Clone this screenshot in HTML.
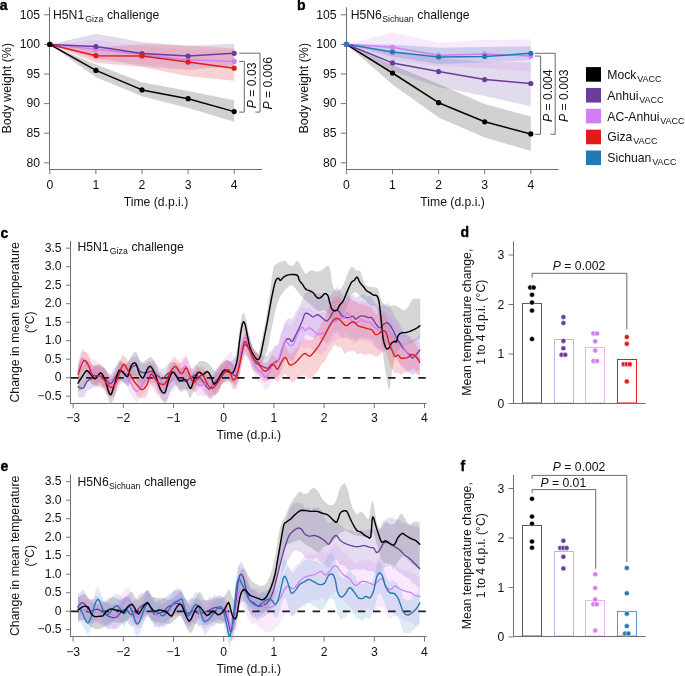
<!DOCTYPE html>
<html><head><meta charset="utf-8"><title>Figure</title>
<style>html,body{margin:0;padding:0;background:#fff;width:685px;height:676px;overflow:hidden;}
svg text{font-family:"Liberation Sans", sans-serif;}</style></head>
<body>
<svg width="685" height="676" viewBox="0 0 685 676" style="position:absolute;left:0;top:0;filter:blur(0.3px)">
<rect width="685" height="676" fill="#fff"/>
<text x="-0.3" y="10.3" font-size="14" fill="#000" font-weight="bold" stroke="#000" stroke-width="0.35">a</text>
<path d="M49.8 44.4 L95.9 64.4 L142 82.3 L188.1 91 L234.2 100.3 L234.2 121.8 L188.1 108 L142 96.3 L95.9 77.2 L49.8 44.4Z" fill="#9a9a9a" fill-opacity="0.45" stroke="none"/>
<path d="M49.8 44.4 L95.9 33.8 L142 42 L188.1 46 L234.2 43.8 L234.2 66 L188.1 70 L142 66 L95.9 58 L49.8 44.4Z" fill="#8a6ab8" fill-opacity="0.25" stroke="none"/>
<path d="M49.8 44.4 L95.9 40 L142 46 L188.1 50 L234.2 50 L234.2 68 L188.1 66 L142 64 L95.9 60 L49.8 44.4Z" fill="#d47ef6" fill-opacity="0.12" stroke="none"/>
<path d="M49.8 44.4 L95.9 47.4 L142 44.3 L188.1 45.5 L234.2 48.5 L234.2 80.7 L188.1 76.2 L142 67 L95.9 62.7 L49.8 44.4Z" fill="#e8707a" fill-opacity="0.32" stroke="none"/>
<line x1="49.5" y1="7.2" x2="49.5" y2="170" stroke="#6e6e6e" stroke-width="1"/>
<line x1="49" y1="169.5" x2="262" y2="169.5" stroke="#6e6e6e" stroke-width="1"/>
<line x1="44.2" y1="14.8" x2="49.5" y2="14.8" stroke="#777777" stroke-width="1"/>
<text x="40" y="18.5" font-size="12.2" fill="#111111" text-anchor="end">105</text>
<line x1="44.2" y1="44.4" x2="49.5" y2="44.4" stroke="#777777" stroke-width="1"/>
<text x="40" y="48.1" font-size="12.2" fill="#111111" text-anchor="end">100</text>
<line x1="44.2" y1="74" x2="49.5" y2="74" stroke="#777777" stroke-width="1"/>
<text x="40" y="77.7" font-size="12.2" fill="#111111" text-anchor="end">95</text>
<line x1="44.2" y1="103.6" x2="49.5" y2="103.6" stroke="#777777" stroke-width="1"/>
<text x="40" y="107.3" font-size="12.2" fill="#111111" text-anchor="end">90</text>
<line x1="44.2" y1="133.2" x2="49.5" y2="133.2" stroke="#777777" stroke-width="1"/>
<text x="40" y="136.9" font-size="12.2" fill="#111111" text-anchor="end">85</text>
<line x1="44.2" y1="162.8" x2="49.5" y2="162.8" stroke="#777777" stroke-width="1"/>
<text x="40" y="166.5" font-size="12.2" fill="#111111" text-anchor="end">80</text>
<line x1="49.8" y1="170" x2="49.8" y2="174.3" stroke="#777777" stroke-width="1"/>
<text x="49.8" y="188.9" font-size="12.2" fill="#111111" text-anchor="middle">0</text>
<line x1="95.9" y1="170" x2="95.9" y2="174.3" stroke="#777777" stroke-width="1"/>
<text x="95.9" y="188.9" font-size="12.2" fill="#111111" text-anchor="middle">1</text>
<line x1="142" y1="170" x2="142" y2="174.3" stroke="#777777" stroke-width="1"/>
<text x="142" y="188.9" font-size="12.2" fill="#111111" text-anchor="middle">2</text>
<line x1="188.1" y1="170" x2="188.1" y2="174.3" stroke="#777777" stroke-width="1"/>
<text x="188.1" y="188.9" font-size="12.2" fill="#111111" text-anchor="middle">3</text>
<line x1="234.2" y1="170" x2="234.2" y2="174.3" stroke="#777777" stroke-width="1"/>
<text x="234.2" y="188.9" font-size="12.2" fill="#111111" text-anchor="middle">4</text>
<text x="156" y="206" font-size="12.2" fill="#111111" text-anchor="middle" textLength="64.5" lengthAdjust="spacingAndGlyphs">Time (d.p.i.)</text>
<text x="11.2" y="88.2" font-size="12.2" fill="#111111" text-anchor="middle" transform="rotate(-90 11.2 88.2)" textLength="90.5" lengthAdjust="spacingAndGlyphs">Body weight (%)</text>
<text x="53" y="18.7" font-size="12.2" fill="#111111">H5N1<tspan font-size="8.7" dy="2.9" dx="1.2">Giza</tspan><tspan dy="-2.9" dx="0.4"> challenge</tspan></text>
<path d="M49.8 44.4 L95.9 49.3 L142 54.6 L188.1 59.8 L234.2 61.4" fill="none" stroke="#d47ef6" stroke-width="1.5" stroke-linejoin="round" stroke-linecap="round"/>
<circle cx="49.8" cy="44.4" r="2.6" fill="#d47ef6"/>
<circle cx="95.9" cy="49.3" r="2.6" fill="#d47ef6"/>
<circle cx="142" cy="54.6" r="2.6" fill="#d47ef6"/>
<circle cx="188.1" cy="59.8" r="2.6" fill="#d47ef6"/>
<circle cx="234.2" cy="61.4" r="2.6" fill="#d47ef6"/>
<path d="M49.8 44.4 L95.9 46.5 L142 53.6 L188.1 56 L234.2 53.3" fill="none" stroke="#6a3d9a" stroke-width="1.5" stroke-linejoin="round" stroke-linecap="round"/>
<circle cx="49.8" cy="44.4" r="2.6" fill="#6a3d9a"/>
<circle cx="95.9" cy="46.5" r="2.6" fill="#6a3d9a"/>
<circle cx="142" cy="53.6" r="2.6" fill="#6a3d9a"/>
<circle cx="188.1" cy="56" r="2.6" fill="#6a3d9a"/>
<circle cx="234.2" cy="53.3" r="2.6" fill="#6a3d9a"/>
<path d="M49.8 44.4 L95.9 55.7 L142 55.9 L188.1 62.1 L234.2 68.2" fill="none" stroke="#e31a1c" stroke-width="1.5" stroke-linejoin="round" stroke-linecap="round"/>
<circle cx="49.8" cy="44.4" r="2.6" fill="#e31a1c"/>
<circle cx="95.9" cy="55.7" r="2.6" fill="#e31a1c"/>
<circle cx="142" cy="55.9" r="2.6" fill="#e31a1c"/>
<circle cx="188.1" cy="62.1" r="2.6" fill="#e31a1c"/>
<circle cx="234.2" cy="68.2" r="2.6" fill="#e31a1c"/>
<path d="M49.8 44.4 L95.9 70.4 L142 89.9 L188.1 98.7 L234.2 111.6" fill="none" stroke="#000000" stroke-width="1.5" stroke-linejoin="round" stroke-linecap="round"/>
<circle cx="49.8" cy="44.4" r="2.6" fill="#000000"/>
<circle cx="95.9" cy="70.4" r="2.6" fill="#000000"/>
<circle cx="142" cy="89.9" r="2.6" fill="#000000"/>
<circle cx="188.1" cy="98.7" r="2.6" fill="#000000"/>
<circle cx="234.2" cy="111.6" r="2.6" fill="#000000"/>
<path d="M239.2 61.4 H244.3 V112.1 H239.2" fill="none" stroke="#6a6a6a" stroke-width="1"/>
<path d="M239.2 53.2 H260 V112.1 H255.4" fill="none" stroke="#6a6a6a" stroke-width="1"/>
<text x="255.6" y="108.2" font-size="12.2" fill="#111111" transform="rotate(-90 255.6 108.2)"><tspan font-style="italic">P</tspan> = 0.03</text>
<text x="272.2" y="109.6" font-size="12.2" fill="#111111" transform="rotate(-90 272.2 109.6)"><tspan font-style="italic">P</tspan> = 0.006</text>
<text x="296.9" y="10.3" font-size="14" fill="#000" font-weight="bold" stroke="#000" stroke-width="0.35">b</text>
<path d="M346.4 44.3 L392.5 65 L438.6 84 L484.7 104 L530.8 116.5 L530.8 151 L484.7 137.5 L438.6 117.5 L392.5 84.5 L346.4 44.3Z" fill="#9a9a9a" fill-opacity="0.45" stroke="none"/>
<path d="M346.4 44.3 L392.5 52 L438.6 58 L484.7 62 L530.8 62 L530.8 106.5 L484.7 96 L438.6 87 L392.5 71 L346.4 44.3Z" fill="#8a6ab8" fill-opacity="0.25" stroke="none"/>
<path d="M346.4 44.3 L392.5 32.5 L438.6 42.8 L484.7 40 L530.8 39.3 L530.8 71.5 L484.7 68 L438.6 66 L392.5 60 L346.4 44.3Z" fill="#d47ef6" fill-opacity="0.17" stroke="none"/>
<path d="M346.4 44.3 L392.5 44.5 L438.6 47.7 L484.7 47 L530.8 46.3 L530.8 60.5 L484.7 62.5 L438.6 64 L392.5 56.5 L346.4 44.3Z" fill="#6a8fce" fill-opacity="0.3" stroke="none"/>
<line x1="346.5" y1="7.2" x2="346.5" y2="170" stroke="#6e6e6e" stroke-width="1"/>
<line x1="346" y1="169.5" x2="558.6" y2="169.5" stroke="#6e6e6e" stroke-width="1"/>
<line x1="340.8" y1="14.8" x2="346.5" y2="14.8" stroke="#777777" stroke-width="1"/>
<text x="336.6" y="18.5" font-size="12.2" fill="#111111" text-anchor="end">105</text>
<line x1="340.8" y1="44.4" x2="346.5" y2="44.4" stroke="#777777" stroke-width="1"/>
<text x="336.6" y="48.1" font-size="12.2" fill="#111111" text-anchor="end">100</text>
<line x1="340.8" y1="74" x2="346.5" y2="74" stroke="#777777" stroke-width="1"/>
<text x="336.6" y="77.7" font-size="12.2" fill="#111111" text-anchor="end">95</text>
<line x1="340.8" y1="103.6" x2="346.5" y2="103.6" stroke="#777777" stroke-width="1"/>
<text x="336.6" y="107.3" font-size="12.2" fill="#111111" text-anchor="end">90</text>
<line x1="340.8" y1="133.2" x2="346.5" y2="133.2" stroke="#777777" stroke-width="1"/>
<text x="336.6" y="136.9" font-size="12.2" fill="#111111" text-anchor="end">85</text>
<line x1="340.8" y1="162.8" x2="346.5" y2="162.8" stroke="#777777" stroke-width="1"/>
<text x="336.6" y="166.5" font-size="12.2" fill="#111111" text-anchor="end">80</text>
<line x1="346.4" y1="170" x2="346.4" y2="174.3" stroke="#777777" stroke-width="1"/>
<text x="346.4" y="188.9" font-size="12.2" fill="#111111" text-anchor="middle">0</text>
<line x1="392.5" y1="170" x2="392.5" y2="174.3" stroke="#777777" stroke-width="1"/>
<text x="392.5" y="188.9" font-size="12.2" fill="#111111" text-anchor="middle">1</text>
<line x1="438.6" y1="170" x2="438.6" y2="174.3" stroke="#777777" stroke-width="1"/>
<text x="438.6" y="188.9" font-size="12.2" fill="#111111" text-anchor="middle">2</text>
<line x1="484.7" y1="170" x2="484.7" y2="174.3" stroke="#777777" stroke-width="1"/>
<text x="484.7" y="188.9" font-size="12.2" fill="#111111" text-anchor="middle">3</text>
<line x1="530.8" y1="170" x2="530.8" y2="174.3" stroke="#777777" stroke-width="1"/>
<text x="530.8" y="188.9" font-size="12.2" fill="#111111" text-anchor="middle">4</text>
<text x="452.6" y="206" font-size="12.2" fill="#111111" text-anchor="middle" textLength="64.5" lengthAdjust="spacingAndGlyphs">Time (d.p.i.)</text>
<text x="307.8" y="88.2" font-size="12.2" fill="#111111" text-anchor="middle" transform="rotate(-90 307.8 88.2)" textLength="90.5" lengthAdjust="spacingAndGlyphs">Body weight (%)</text>
<text x="350.7" y="18.7" font-size="12.2" fill="#111111">H5N6<tspan font-size="8.7" dy="2.9" dx="0.3">Sichuan</tspan><tspan dy="-2.9" dx="0.4"> challenge</tspan></text>
<path d="M346.4 44.3 L392.5 73 L438.6 102.7 L484.7 121.8 L530.8 133.9" fill="none" stroke="#000000" stroke-width="1.5" stroke-linejoin="round" stroke-linecap="round"/>
<circle cx="346.4" cy="44.3" r="2.6" fill="#000000"/>
<circle cx="392.5" cy="73" r="2.6" fill="#000000"/>
<circle cx="438.6" cy="102.7" r="2.6" fill="#000000"/>
<circle cx="484.7" cy="121.8" r="2.6" fill="#000000"/>
<circle cx="530.8" cy="133.9" r="2.6" fill="#000000"/>
<path d="M346.4 44.3 L392.5 62.9 L438.6 71.6 L484.7 79.6 L530.8 83.5" fill="none" stroke="#6a3d9a" stroke-width="1.5" stroke-linejoin="round" stroke-linecap="round"/>
<circle cx="346.4" cy="44.3" r="2.6" fill="#6a3d9a"/>
<circle cx="392.5" cy="62.9" r="2.6" fill="#6a3d9a"/>
<circle cx="438.6" cy="71.6" r="2.6" fill="#6a3d9a"/>
<circle cx="484.7" cy="79.6" r="2.6" fill="#6a3d9a"/>
<circle cx="530.8" cy="83.5" r="2.6" fill="#6a3d9a"/>
<path d="M346.4 44.3 L392.5 47.3 L438.6 55.3 L484.7 54 L530.8 56.1" fill="none" stroke="#d47ef6" stroke-width="1.5" stroke-linejoin="round" stroke-linecap="round"/>
<circle cx="346.4" cy="44.3" r="2.6" fill="#d47ef6"/>
<circle cx="392.5" cy="47.3" r="2.6" fill="#d47ef6"/>
<circle cx="438.6" cy="55.3" r="2.6" fill="#d47ef6"/>
<circle cx="484.7" cy="54" r="2.6" fill="#d47ef6"/>
<circle cx="530.8" cy="56.1" r="2.6" fill="#d47ef6"/>
<path d="M346.4 44.3 L392.5 52 L438.6 57 L484.7 56.4 L530.8 53.3" fill="none" stroke="#2479b5" stroke-width="1.5" stroke-linejoin="round" stroke-linecap="round"/>
<circle cx="346.4" cy="44.3" r="2.6" fill="#2479b5"/>
<circle cx="392.5" cy="52" r="2.6" fill="#2479b5"/>
<circle cx="438.6" cy="57" r="2.6" fill="#2479b5"/>
<circle cx="484.7" cy="56.4" r="2.6" fill="#2479b5"/>
<circle cx="530.8" cy="53.3" r="2.6" fill="#2479b5"/>
<path d="M535 56.1 H540.6 V134.3 H535" fill="none" stroke="#6a6a6a" stroke-width="1"/>
<path d="M535 53.3 H555.2 V134.3 H550.5" fill="none" stroke="#6a6a6a" stroke-width="1"/>
<text x="551.5" y="122" font-size="12.2" fill="#111111" transform="rotate(-90 551.5 122)"><tspan font-style="italic">P</tspan> = 0.004</text>
<text x="568" y="122" font-size="12.2" fill="#111111" transform="rotate(-90 568 122)"><tspan font-style="italic">P</tspan> = 0.003</text>
<rect x="586" y="67.1" width="15" height="14.6" fill="#000000"/>
<text x="607.3" y="78.8" font-size="12.2" fill="#111111">Mock<tspan font-size="9" dy="3.1" dx="0.8">VACC</tspan></text>
<rect x="586" y="87.95" width="15" height="14.6" fill="#6a3d9a"/>
<text x="607.3" y="99.65" font-size="12.2" fill="#111111">Anhui<tspan font-size="9" dy="3.1" dx="0.8">VACC</tspan></text>
<rect x="586" y="108.8" width="15" height="14.6" fill="#d47ef6"/>
<text x="607.3" y="120.5" font-size="12.2" fill="#111111">AC-Anhui<tspan font-size="9" dy="3.1" dx="0.8">VACC</tspan></text>
<rect x="586" y="129.65" width="15" height="14.6" fill="#e31a1c"/>
<text x="607.3" y="141.35" font-size="12.2" fill="#111111">Giza<tspan font-size="9" dy="3.1" dx="0.8">VACC</tspan></text>
<rect x="586" y="150.5" width="15" height="14.6" fill="#2479b5"/>
<text x="607.3" y="162.2" font-size="12.2" fill="#111111">Sichuan<tspan font-size="9" dy="3.1" dx="0.8">VACC</tspan></text>
<text x="0.4" y="237.6" font-size="14" fill="#000" font-weight="bold" stroke="#000" stroke-width="0.35">c</text>
<line x1="70.5" y1="241" x2="70.5" y2="404" stroke="#6e6e6e" stroke-width="1"/>
<line x1="70" y1="403.5" x2="426.5" y2="403.5" stroke="#6e6e6e" stroke-width="1"/>
<line x1="66" y1="396.2" x2="70.8" y2="396.2" stroke="#777777" stroke-width="1"/>
<text x="61.6" y="399.9" font-size="12.2" fill="#111111" text-anchor="end">−0.5</text>
<line x1="66" y1="377.7" x2="70.8" y2="377.7" stroke="#777777" stroke-width="1"/>
<text x="61.6" y="381.4" font-size="12.2" fill="#111111" text-anchor="end">0</text>
<line x1="66" y1="359.2" x2="70.8" y2="359.2" stroke="#777777" stroke-width="1"/>
<text x="61.6" y="362.9" font-size="12.2" fill="#111111" text-anchor="end">0.5</text>
<line x1="66" y1="340.7" x2="70.8" y2="340.7" stroke="#777777" stroke-width="1"/>
<text x="61.6" y="344.4" font-size="12.2" fill="#111111" text-anchor="end">1.0</text>
<line x1="66" y1="322.2" x2="70.8" y2="322.2" stroke="#777777" stroke-width="1"/>
<text x="61.6" y="325.9" font-size="12.2" fill="#111111" text-anchor="end">1.5</text>
<line x1="66" y1="303.7" x2="70.8" y2="303.7" stroke="#777777" stroke-width="1"/>
<text x="61.6" y="307.4" font-size="12.2" fill="#111111" text-anchor="end">2.0</text>
<line x1="66" y1="285.2" x2="70.8" y2="285.2" stroke="#777777" stroke-width="1"/>
<text x="61.6" y="288.9" font-size="12.2" fill="#111111" text-anchor="end">2.5</text>
<line x1="66" y1="266.7" x2="70.8" y2="266.7" stroke="#777777" stroke-width="1"/>
<text x="61.6" y="270.4" font-size="12.2" fill="#111111" text-anchor="end">3.0</text>
<line x1="66" y1="248.2" x2="70.8" y2="248.2" stroke="#777777" stroke-width="1"/>
<text x="61.6" y="251.9" font-size="12.2" fill="#111111" text-anchor="end">3.5</text>
<line x1="73.1" y1="404" x2="73.1" y2="408.1" stroke="#777777" stroke-width="1"/>
<text x="73.1" y="422.3" font-size="12.2" fill="#111111" text-anchor="middle">−3</text>
<line x1="123.3" y1="404" x2="123.3" y2="408.1" stroke="#777777" stroke-width="1"/>
<text x="123.3" y="422.3" font-size="12.2" fill="#111111" text-anchor="middle">−2</text>
<line x1="173.5" y1="404" x2="173.5" y2="408.1" stroke="#777777" stroke-width="1"/>
<text x="173.5" y="422.3" font-size="12.2" fill="#111111" text-anchor="middle">−1</text>
<line x1="223.7" y1="404" x2="223.7" y2="408.1" stroke="#777777" stroke-width="1"/>
<text x="223.7" y="422.3" font-size="12.2" fill="#111111" text-anchor="middle">0</text>
<line x1="273.9" y1="404" x2="273.9" y2="408.1" stroke="#777777" stroke-width="1"/>
<text x="273.9" y="422.3" font-size="12.2" fill="#111111" text-anchor="middle">1</text>
<line x1="324.1" y1="404" x2="324.1" y2="408.1" stroke="#777777" stroke-width="1"/>
<text x="324.1" y="422.3" font-size="12.2" fill="#111111" text-anchor="middle">2</text>
<line x1="374.3" y1="404" x2="374.3" y2="408.1" stroke="#777777" stroke-width="1"/>
<text x="374.3" y="422.3" font-size="12.2" fill="#111111" text-anchor="middle">3</text>
<line x1="424.5" y1="404" x2="424.5" y2="408.1" stroke="#777777" stroke-width="1"/>
<text x="424.5" y="422.3" font-size="12.2" fill="#111111" text-anchor="middle">4</text>
<text x="248.8" y="439.2" font-size="12.2" fill="#111111" text-anchor="middle" textLength="64.5" lengthAdjust="spacingAndGlyphs">Time (d.p.i.)</text>
<text x="19.3" y="322.3" font-size="12.2" fill="#111111" text-anchor="middle" transform="rotate(-90 19.3 322.3)" textLength="160.5" lengthAdjust="spacingAndGlyphs">Change in mean temperature</text>
<text x="34.3" y="322.2" font-size="12.2" fill="#111111" text-anchor="middle" transform="rotate(-90 34.3 322.2)">(°C)</text>
<text x="77.5" y="251.3" font-size="12.2" fill="#111111">H5N1<tspan font-size="8.7" dy="2.9" dx="1.2">Giza</tspan><tspan dy="-2.9" dx="0.4"> challenge</tspan></text>
<path d="M78 374 L79.63 371.15 L81.93 367.19 L84 364 L85.41 362.19 L86.59 361.15 L88 361 L89.85 362.33 L91.93 364.56 L94 366 L96 365.56 L98 364.33 L100 364 L102.04 365.26 L104.07 367.41 L106 370 L107.74 373.89 L109.37 378.22 L111 380 L112.7 377.15 L114.41 371.74 L116 367 L117.33 363.81 L118.56 361.3 L120 360 L121.85 361 L123.93 363.22 L126 364 L128.07 361.74 L130.15 358.04 L132 355 L133.44 353.07 L134.67 351.81 L136 352 L137.59 354.81 L139.3 359.07 L141 362 L142.67 362.26 L144.33 361.19 L146 360 L147.67 358.7 L149.33 357.3 L151 357 L152.67 358.33 L154.33 360.78 L156 364 L157.67 368.56 L159.33 373.89 L161 378 L162.7 380.41 L164.41 381.59 L166 381 L167.37 377.59 L168.63 372.41 L170 368 L171.56 365.04 L173.22 362.85 L175 362 L176.93 363.33 L178.96 366 L181 368 L183.07 368.19 L185.15 367.7 L187 368 L188.44 370.41 L189.67 373.59 L191 375 L192.63 373.04 L194.37 369.3 L196 366 L197.33 363.81 L198.56 362.07 L200 361 L201.93 360.81 L204.07 361.3 L206 362 L207.44 362.74 L208.67 363.7 L210 365 L211.59 367.22 L213.3 369.78 L215 371 L216.63 369.85 L218.26 367.37 L220 365 L221.93 363.04 L223.96 361.19 L226 360 L228.07 360.19 L230.15 361.04 L232 361 L233.52 359.74 L234.81 357.59 L236 354 L237.09 348.15 L238.07 340.85 L239 334 L239.89 327.96 L240.72 322.37 L241.5 318 L242.19 315.11 L242.81 313.44 L243.5 313 L244.28 313.81 L245.11 315.85 L246 319 L246.96 323.81 L247.98 329.74 L249 335 L249.96 338.89 L250.93 342.11 L252 345 L253.31 347.78 L254.74 350.22 L256 352 L256.94 353.19 L257.72 353.7 L258.5 353 L259.33 350.56 L260.17 346.89 L261 343 L261.83 339.19 L262.67 335.15 L263.5 331 L264.33 326.85 L265.17 322.59 L266 318 L266.85 312.81 L267.7 307.3 L268.5 302 L269.22 297.11 L269.89 292.44 L270.5 288 L271.03 283.79 L271.5 279.79 L272 276 L272.64 272.09 L273.32 268.38 L273.8 265.8 L273.77 265.15 L273.54 265.64 L273.8 265.8 L274.86 265.02 L276.41 263.92 L278.2 262.9 L280.31 261.9 L282.66 260.97 L284.7 260.7 L286.11 261.58 L287.22 263.12 L288.4 264.4 L289.81 265.28 L291.31 265.9 L292.8 265.8 L294.27 264.15 L295.74 261.77 L297.2 260.7 L298.64 262.03 L300.06 264.67 L301.5 267.3 L302.96 269.88 L304.43 272.46 L305.9 273.9 L307.26 273.24 L308.62 271.43 L310.3 270.2 L312.57 270.48 L315.17 271.33 L317.6 271.7 L319.7 271.06 L321.63 269.94 L323.4 268.8 L325.05 267.59 L326.55 266.36 L327.8 265.8 L328.69 265.93 L329.34 266.72 L330 268.8 L330.74 273.08 L331.49 278.64 L332.3 283.4 L333.17 286.67 L334.1 289.14 L335.2 290.7 L336.56 291.24 L338.08 290.89 L339.6 289.9 L341.07 288.35 L342.53 286.16 L344 283.4 L345.5 279.64 L346.99 275.3 L348.4 271.7 L349.66 269.19 L350.82 267.41 L352 266.6 L353.2 267.26 L354.42 268.89 L355.7 270.2 L357.14 270.41 L358.64 270.3 L360 271 L361.1 273.19 L362.06 276.18 L363 279 L363.81 281.46 L364.61 283.76 L365.9 285.5 L368.11 286.37 L370.82 286.69 L373.2 287 L374.94 287.2 L376.35 287.41 L377.6 288.5 L378.68 291.21 L379.59 294.81 L380.5 298 L381.41 300.31 L382.32 302.22 L383.4 303.8 L384.7 305.14 L386.17 306.16 L387.8 306.7 L389.68 306.45 L391.72 305.72 L393.6 305.3 L395.12 305.47 L396.48 305.96 L398 306.7 L399.88 308.04 L401.92 309.63 L403.8 310.4 L405.37 309.85 L406.79 308.47 L408.2 306.7 L409.56 304.29 L410.92 301.48 L412.6 299.4 L415.07 298.6 L417.87 298.54 L419.9 298.7 L420.56 299.03 L420.45 299.59 L420.3 300 L420.3 338 L418.1 339.41 L414.98 341.37 L412 343 L409.5 343.85 L407.14 344.37 L405 345 L403.13 345.89 L401.48 346.88 L400 348 L398.7 349 L397.57 350.13 L396.5 352.1 L395.46 355.44 L394.49 359.62 L393.6 363.8 L392.81 367.6 L392.11 371.39 L391.4 375.5 L390.72 381.33 L390.04 387.47 L389.2 390 L388.01 386.26 L386.66 378.91 L385.5 372 L384.71 367.19 L384.1 362.81 L383.5 358 L382.85 352.44 L382.2 346.44 L381.5 340 L380.72 332.56 L379.89 324.67 L379 318 L378.15 313.19 L377.24 309.59 L376 307 L374.19 305.78 L372.04 305.56 L370 305 L368.26 303.52 L366.63 301.7 L365 300 L363.33 298.59 L361.67 297.3 L360 296 L358.33 294.3 L356.67 292.59 L355 292 L353.33 292.96 L351.67 295.04 L350 298 L348.33 302.33 L346.67 307.56 L345 312 L343.33 314.96 L341.67 317.15 L340 319 L338.33 320.93 L336.67 322.52 L335 323 L333.33 321.78 L331.67 319.44 L330 317 L328.41 314.44 L326.81 311.78 L325 310 L322.85 310.04 L320.48 310.96 L318 311 L315.37 309.22 L312.63 306.56 L310 304 L307.52 301.92 L305.16 299.96 L303 298 L301.16 296.05 L299.53 294.11 L297.9 292.1 L296.17 289.65 L294.45 287.13 L292.8 285.5 L291.39 285.16 L290.06 285.72 L288.4 287 L286.06 289.11 L283.4 291.94 L281.1 295 L279.46 298.07 L278.18 301.37 L277 305 L275.87 309 L274.84 313.33 L273.8 318 L272.68 323.22 L271.54 328.78 L270.5 334 L269.63 338.67 L268.84 343 L268 347 L267.04 350.7 L266.02 354.07 L265 357 L264 359.41 L263 361.37 L262 363 L261.04 364.41 L260.07 365.48 L259 366 L257.74 365.85 L256.37 365.15 L255 364 L253.63 362.41 L252.26 360.37 L251 358 L249.91 355.37 L248.93 352.41 L248 349 L247.11 344.67 L246.28 339.89 L245.5 336 L244.81 333.04 L244.19 330.96 L243.5 331 L242.7 334 L241.85 339.11 L241 345 L240.17 351.74 L239.33 359.26 L238.5 366 L237.69 371.59 L236.87 376.41 L236 380 L235.07 382.04 L234.09 382.85 L233 383 L231.78 382.3 L230.44 380.93 L229 380 L227.41 379.74 L225.7 379.93 L224 381 L222.33 383.56 L220.67 387 L219 390 L217.3 392.56 L215.59 394.67 L214 395 L212.63 392.11 L211.37 387.44 L210 384 L208.41 383.26 L206.7 383.74 L205 384 L203.33 383.19 L201.67 382.15 L200 382 L198.33 383.26 L196.67 385.41 L195 388 L193.3 391.74 L191.59 395.93 L190 398 L188.67 396.04 L187.44 391.96 L186 389 L184.11 388.81 L182 389.74 L180 390 L178.26 388.33 L176.63 386 L175 385 L173.3 386.3 L171.59 388.93 L170 392 L168.63 395.96 L167.37 400.37 L166 403 L164.37 402.78 L162.63 400.78 L161 398 L159.63 394.44 L158.37 390.11 L157 386 L155.37 382.07 L153.63 378.37 L152 376 L150.63 375.48 L149.37 376.3 L148 378 L146.41 381.26 L144.7 385.41 L143 388 L141.33 387.89 L139.67 386.22 L138 384 L136.3 380.63 L134.59 376.7 L133 375 L131.63 377.7 L130.37 382.63 L129 386 L127.41 386 L125.7 384.44 L124 383 L122.33 381.56 L120.67 380.22 L119 381 L117.3 385.67 L115.59 392.44 L114 398 L112.59 401.52 L111.3 403.81 L110 404 L108.74 400.93 L107.48 395.74 L106 391 L104.15 387.22 L102.07 383.89 L100 382 L98 382.74 L96 384.93 L94 386 L91.93 384.22 L89.85 381.33 L88 380 L86.59 381.78 L85.41 385.11 L84 388 L81.93 389.78 L79.63 391.11 L78 392Z" fill="#a8a8a8" fill-opacity="0.48" stroke="none"/>
<path d="M78 375.86 L80.2 377.45 L82.4 378.71 L84.6 374.56 L86.8 371.14 L89 371.4 L91.2 369.96 L93.4 368.45 L95.6 366.9 L97.8 365.24 L100 365.88 L102.2 367.43 L104.4 367.72 L106.6 371.37 L108.8 373.53 L111 374.38 L113.2 370.39 L115.4 366.68 L117.6 365.35 L119.8 361.23 L122 363.01 L124.2 363 L126.4 364.88 L128.6 362.12 L130.8 358.72 L133 356.91 L135.2 356.5 L137.4 357.11 L139.6 361.91 L141.8 363.54 L144 363.39 L146.2 363.8 L148.4 361.41 L150.6 362.54 L152.8 360.58 L155 363.28 L157.2 364.82 L159.4 368.4 L161.6 368.96 L163.8 368.7 L166 366.6 L168.2 363.4 L170.4 361.73 L172.6 362.32 L174.8 362.32 L177 367.02 L179.2 368.38 L181.4 370.3 L183.6 372.33 L185.8 370.66 L188 370.19 L190.2 368.18 L192.4 367.88 L194.6 365.17 L196.8 364.65 L199 368.52 L201.2 369.43 L203.4 371.93 L205.6 373.97 L207.8 378.64 L210 379.28 L212.2 376.14 L214.4 373.27 L216.6 368.54 L218.8 367.91 L221 363.82 L223.2 363.3 L225.4 361.64 L227.6 361.21 L229.8 361.66 L232 364.16 L234.2 364.61 L236.4 363.47 L238.6 356.93 L240.8 344.75 L243 337.32 L245.2 332.86 L247.4 336.21 L249.6 340.87 L251.8 345.93 L254 351.87 L256.2 351.81 L258.4 354.37 L260.6 356.33 L262.8 354.47 L265 356.47 L267.2 356.23 L269.4 352 L271.6 350.57 L273.8 346.87 L276 344.93 L278.2 344.58 L280.4 335.09 L282.6 329.98 L284.8 322.06 L287 319.42 L289.2 318.04 L291.4 319.82 L293.6 316.61 L295.8 312.11 L298 308.76 L300.2 304.62 L302.4 299.77 L304.6 293.5 L306.8 292.54 L309 290.81 L311.2 292.81 L313.4 295.35 L315.6 293.31 L317.8 293.13 L320 293.24 L322.2 295.79 L324.4 297.32 L326.6 299.08 L328.8 296.17 L331 295.01 L333.2 291.05 L335.4 288.83 L337.6 287.09 L339.8 290.23 L342 293.84 L344.2 296.42 L346.4 294.8 L348.6 295.19 L350.8 297.09 L353 294 L355.2 297.26 L357.4 296.75 L359.6 295.9 L361.8 294.22 L364 294.29 L366.2 296.9 L368.4 295.77 L370.6 296.55 L372.8 299.69 L375 303.35 L377.2 305.35 L379.4 307.74 L381.6 306.25 L383.8 304.39 L386 303.64 L388.2 302.67 L390.4 306.64 L392.6 312.2 L394.8 316.78 L397 319.33 L399.2 322.86 L401.4 328.19 L403.6 331.88 L405.8 334.56 L408 334.93 L410.2 337.07 L412.4 342.07 L414.6 338.58 L416.8 338.74 L419 333.48 L419.9 332.68 L419.9 369.01 L419 370.3 L416.8 371.13 L414.6 373.68 L412.4 375.25 L410.2 373.48 L408 372.89 L405.8 370.86 L403.6 368.76 L401.4 366.63 L399.2 363.22 L397 358.58 L394.8 355.48 L392.6 349.88 L390.4 348.01 L388.2 344.16 L386 344.95 L383.8 344.94 L381.6 348.81 L379.4 350.43 L377.2 347.28 L375 344.98 L372.8 340.69 L370.6 339.66 L368.4 338.55 L366.2 338.38 L364 338.31 L361.8 337.39 L359.6 337.99 L357.4 340.6 L355.2 340.25 L353 338.41 L350.8 339.88 L348.6 338.26 L346.4 338.38 L344.2 337.38 L342 337.52 L339.8 334.66 L337.6 331.5 L335.4 333.37 L333.2 332.31 L331 338.6 L328.8 342.1 L326.6 343.81 L324.4 340.54 L322.2 340.38 L320 338.69 L317.8 335.65 L315.6 338.27 L313.4 338.08 L311.2 336.28 L309 336.11 L306.8 334.35 L304.6 336.14 L302.4 341.72 L300.2 344.68 L298 350.19 L295.8 353.89 L293.6 358.96 L291.4 361.43 L289.2 359.75 L287 356.96 L284.8 361.89 L282.6 366.9 L280.4 373.05 L278.2 375.48 L276 376.63 L273.8 377.22 L271.6 377.41 L269.4 379.41 L267.2 380.04 L265 379.61 L262.8 376.82 L260.6 376.87 L258.4 373.61 L256.2 372.23 L254 371.68 L251.8 368.57 L249.6 360.75 L247.4 357.46 L245.2 355.85 L243 358.81 L240.8 369.38 L238.6 378.56 L236.4 385.75 L234.2 386.82 L232 382.57 L229.8 381.91 L227.6 381.93 L225.4 381.48 L223.2 382.43 L221 384.47 L218.8 388.83 L216.6 388.66 L214.4 393.37 L212.2 395.1 L210 398.76 L207.8 396.81 L205.6 395.87 L203.4 392.45 L201.2 387.71 L199 387.06 L196.8 384.85 L194.6 386.09 L192.4 386.49 L190.2 388.37 L188 390.03 L185.8 390.85 L183.6 390.67 L181.4 392.37 L179.2 391.02 L177 385.56 L174.8 382.99 L172.6 380.5 L170.4 380.99 L168.2 384.98 L166 386.92 L163.8 387.46 L161.6 387.13 L159.4 385.74 L157.2 386.34 L155 382.44 L152.8 382.86 L150.6 382.97 L148.4 380.7 L146.2 382.98 L144 381.78 L141.8 382.47 L139.6 382.24 L137.4 375.49 L135.2 376.93 L133 377.7 L130.8 379.74 L128.6 382.87 L126.4 384.49 L124.2 381.95 L122 381.32 L119.8 381.49 L117.6 382.85 L115.4 388.25 L113.2 391.69 L111 395.04 L108.8 394.04 L106.6 390.12 L104.4 386.86 L102.2 386.9 L100 383.94 L97.8 385.94 L95.6 387.65 L93.4 386.88 L91.2 388.8 L89 389.71 L86.8 391.06 L84.6 397.2 L82.4 396.92 L80.2 398.2 L78 396.84Z" fill="#8e6cc0" fill-opacity="0.24" stroke="none"/>
<path d="M78 361.39 L80.2 353.24 L82.4 348.4 L84.6 348.88 L86.8 355.11 L89 357.98 L91.2 358.47 L93.4 360.27 L95.6 360.07 L97.8 362.32 L100 365.29 L102.2 367.27 L104.4 369.62 L106.6 370.49 L108.8 373.14 L111 375.33 L113.2 371.46 L115.4 369.97 L117.6 365.06 L119.8 363.06 L122 362.77 L124.2 361.94 L126.4 363.13 L128.6 367.02 L130.8 370.28 L133 375.56 L135.2 380.62 L137.4 379.36 L139.6 378.47 L141.8 376 L144 371.18 L146.2 364.95 L148.4 362.68 L150.6 361.6 L152.8 364.73 L155 367.88 L157.2 373.71 L159.4 375.29 L161.6 378.26 L163.8 377.73 L166 378.56 L168.2 373.09 L170.4 370.19 L172.6 369.08 L174.8 365.7 L177 364.55 L179.2 362.15 L181.4 358.59 L183.6 356.87 L185.8 354.16 L188 361.45 L190.2 364.61 L192.4 368.31 L194.6 370.39 L196.8 371.06 L199 372.36 L201.2 375.54 L203.4 374.48 L205.6 372.64 L207.8 370.54 L210 372.09 L212.2 373.82 L214.4 374.95 L216.6 371.38 L218.8 365.99 L221 362.78 L223.2 359.53 L225.4 356.66 L227.6 355.66 L229.8 352.11 L232 352.06 L234.2 359.77 L236.4 358.89 L238.6 354.95 L240.8 340.14 L243 328.92 L245.2 324.46 L247.4 331.18 L249.6 336.85 L251.8 345.91 L254 350.64 L256.2 356.54 L258.4 359.99 L260.6 361.99 L262.8 362.43 L265 365.95 L267.2 362.97 L269.4 359.84 L271.6 354.31 L273.8 348.98 L276 346.75 L278.2 345.97 L280.4 337.49 L282.6 330.32 L284.8 324.55 L287 323.4 L289.2 325.46 L291.4 325.95 L293.6 322.4 L295.8 318.2 L298 312.21 L300.2 309.59 L302.4 307.23 L304.6 308.6 L306.8 308.94 L309 306.96 L311.2 308.83 L313.4 311.11 L315.6 311.82 L317.8 312.64 L320 313.57 L322.2 311.92 L324.4 312.47 L326.6 311.47 L328.8 306.6 L331 302.89 L333.2 302.2 L335.4 301.4 L337.6 299.01 L339.8 298.56 L342 299.15 L344.2 297.75 L346.4 294.47 L348.6 293.32 L350.8 299.32 L353 302.61 L355.2 302.59 L357.4 301.75 L359.6 302.22 L361.8 301.49 L364 301.43 L366.2 303.21 L368.4 301.84 L370.6 304.58 L372.8 304.57 L375 306.34 L377.2 309.23 L379.4 311.84 L381.6 310.29 L383.8 311.26 L386 312.99 L388.2 312.12 L390.4 315.89 L392.6 317.04 L394.8 320.18 L397 324.32 L399.2 327.69 L401.4 329.71 L403.6 331.35 L405.8 333.89 L408 336.37 L410.2 335.41 L412.4 338 L414.6 340.66 L416.8 339.22 L419 342.33 L419.9 344.06 L419.9 375.83 L419 375.01 L416.8 374.3 L414.6 372.65 L412.4 373 L410.2 370.06 L408 370.28 L405.8 368.39 L403.6 367.37 L401.4 364.8 L399.2 362.38 L397 358.92 L394.8 357.08 L392.6 354.09 L390.4 351.58 L388.2 350.12 L386 350.08 L383.8 352.62 L381.6 351.63 L379.4 351.98 L377.2 348.75 L375 347.94 L372.8 345.18 L370.6 343.01 L368.4 341.53 L366.2 341.66 L364 340.36 L361.8 341.34 L359.6 340.32 L357.4 341.96 L355.2 342.77 L353 343.45 L350.8 337.8 L348.6 334.79 L346.4 331.62 L344.2 336.93 L342 339.18 L339.8 338.46 L337.6 338.28 L335.4 340.85 L333.2 340.92 L331 344.1 L328.8 345.94 L326.6 349.81 L324.4 351.39 L322.2 354.21 L320 354 L317.8 353.93 L315.6 353.95 L313.4 351.04 L311.2 348.56 L309 346.46 L306.8 348.51 L304.6 348.86 L302.4 346.44 L300.2 347.71 L298 353.7 L295.8 358.87 L293.6 362.83 L291.4 366.22 L289.2 365.41 L287 360.62 L284.8 360.45 L282.6 363.6 L280.4 371.18 L278.2 376.63 L276 379.56 L273.8 378.22 L271.6 381.98 L269.4 385.53 L267.2 389.35 L265 389.57 L262.8 385.24 L260.6 382.87 L258.4 381.6 L256.2 379.03 L254 374.15 L251.8 368.15 L249.6 362.05 L247.4 354.71 L245.2 349.55 L243 355.12 L240.8 366.21 L238.6 380.13 L236.4 384.81 L234.2 383.72 L232 375.44 L229.8 373.59 L227.6 376.6 L225.4 380.62 L223.2 380.71 L221 384.18 L218.8 388.77 L216.6 391.71 L214.4 396.48 L212.2 396.32 L210 396.31 L207.8 393.59 L205.6 395.14 L203.4 397.17 L201.2 395.27 L199 395.83 L196.8 395.81 L194.6 392.28 L192.4 391.06 L190.2 386.07 L188 382 L185.8 375.8 L183.6 379.85 L181.4 380.81 L179.2 383.71 L177 385.81 L174.8 389.57 L172.6 392.06 L170.4 392.98 L168.2 398 L166 400.76 L163.8 401.78 L161.6 401.07 L159.4 397.33 L157.2 395.75 L155 391.67 L152.8 389.21 L150.6 383.72 L148.4 385.36 L146.2 389.42 L144 393.49 L141.8 394.95 L139.6 398.4 L137.4 401.89 L135.2 401.54 L133 397.47 L130.8 394.44 L128.6 389.99 L126.4 384.87 L124.2 383.32 L122 382.87 L119.8 385.94 L117.6 389.42 L115.4 392.42 L113.2 395.61 L111 396.97 L108.8 395.16 L106.6 395.27 L104.4 390.05 L102.2 387.17 L100 385.35 L97.8 386.36 L95.6 382.72 L93.4 382.37 L91.2 379.76 L89 377.46 L86.8 376.17 L84.6 372.28 L82.4 370.98 L80.2 375.71 L78 383.77Z" fill="#d884f5" fill-opacity="0.2" stroke="none"/>
<path d="M78 364.58 L80.2 357.27 L82.4 351.22 L84.6 351.68 L86.8 352.42 L89 354.83 L91.2 363.68 L93.4 365.92 L95.6 364.74 L97.8 365.83 L100 366.22 L102.2 366.98 L104.4 369.16 L106.6 373.84 L108.8 375.64 L111 376.64 L113.2 375.76 L115.4 372.65 L117.6 369.66 L119.8 362.13 L122 354.97 L124.2 355.91 L126.4 357.93 L128.6 361.74 L130.8 364.84 L133 368.35 L135.2 371.16 L137.4 375.36 L139.6 377.58 L141.8 379.98 L144 378.9 L146.2 376.27 L148.4 369.18 L150.6 365.35 L152.8 364.34 L155 369.98 L157.2 372.01 L159.4 372.47 L161.6 372.81 L163.8 374.89 L166 373.01 L168.2 365.92 L170.4 362.4 L172.6 358.5 L174.8 356.98 L177 358.97 L179.2 361.5 L181.4 363.25 L183.6 360.1 L185.8 356.68 L188 359.19 L190.2 367.22 L192.4 372.01 L194.6 372.94 L196.8 368.44 L199 366.83 L201.2 366.63 L203.4 366.35 L205.6 371.32 L207.8 373.29 L210 376.38 L212.2 379.82 L214.4 375.11 L216.6 373.11 L218.8 371.15 L221 367.01 L223.2 364.52 L225.4 360.48 L227.6 360.63 L229.8 361.09 L232 367.88 L234.2 369.32 L236.4 365.02 L238.6 356.88 L240.8 343.41 L243 334.65 L245.2 329.51 L247.4 334.76 L249.6 336.78 L251.8 344.17 L254 349.35 L256.2 351.77 L258.4 354.37 L260.6 357.04 L262.8 362.64 L265 362.58 L267.2 362.68 L269.4 359.35 L271.6 355.13 L273.8 355.78 L276 358.22 L278.2 358.06 L280.4 351.93 L282.6 348.8 L284.8 345.41 L287 348.91 L289.2 353.69 L291.4 353.14 L293.6 351.97 L295.8 348.02 L298 347.21 L300.2 342.6 L302.4 341.28 L304.6 338.11 L306.8 339.67 L309 339.82 L311.2 340.7 L313.4 339.17 L315.6 333.37 L317.8 330.46 L320 326.63 L322.2 321.75 L324.4 319.52 L326.6 312.67 L328.8 307.81 L331 302.96 L333.2 298.36 L335.4 296.64 L337.6 296.06 L339.8 295.58 L342 300.29 L344.2 300.53 L346.4 302.45 L348.6 299.04 L350.8 298.1 L353 299.71 L355.2 300.6 L357.4 303.28 L359.6 304.88 L361.8 303.55 L364 305.34 L366.2 305.4 L368.4 306.37 L370.6 306.79 L372.8 309.98 L375 313.25 L377.2 314.07 L379.4 312.63 L381.6 311.17 L383.8 312.84 L386 315.2 L388.2 322.05 L390.4 330.34 L392.6 335.72 L394.8 340.06 L397 337.98 L399.2 340.42 L401.4 342.45 L403.6 343.46 L405.8 344.16 L408 343.32 L410.2 340.14 L412.4 339.74 L414.6 341.42 L416.8 346.24 L419 349.31 L419.8 351.51 L419.8 376.34 L419 374.77 L416.8 373.66 L414.6 368.67 L412.4 368.15 L410.2 371.71 L408 371.1 L405.8 372.63 L403.6 372.58 L401.4 375.13 L399.2 373.49 L397 372.53 L394.8 373.28 L392.6 368.97 L390.4 366.69 L388.2 359.55 L386 352.31 L383.8 350.35 L381.6 353.27 L379.4 355.5 L377.2 356.74 L375 356.61 L372.8 355.26 L370.6 354.04 L368.4 353.41 L366.2 355.49 L364 354.38 L361.8 353.6 L359.6 353.13 L357.4 354.68 L355.2 352.17 L353 350.8 L350.8 351.62 L348.6 351.54 L346.4 352.74 L344.2 353.68 L342 348.85 L339.8 346.44 L337.6 347.54 L335.4 344.75 L333.2 346.34 L331 350.41 L328.8 353.27 L326.6 357.81 L324.4 362.28 L322.2 363.1 L320 366.72 L317.8 371.49 L315.6 372.68 L313.4 376.48 L311.2 379 L309 379.18 L306.8 376.71 L304.6 375.37 L302.4 375.62 L300.2 376.93 L298 378.31 L295.8 379.92 L293.6 381.66 L291.4 382.79 L289.2 379.66 L287 376.27 L284.8 374.05 L282.6 376.21 L280.4 378.53 L278.2 382.6 L276 380.77 L273.8 376.41 L271.6 378.36 L269.4 380.16 L267.2 380.38 L265 382.29 L262.8 380.47 L260.6 378.33 L258.4 374.31 L256.2 372.78 L254 369.06 L251.8 365.78 L249.6 359.46 L247.4 356.02 L245.2 351.69 L243 358.32 L240.8 368.93 L238.6 380.8 L236.4 389.04 L234.2 389.54 L232 387.86 L229.8 381.89 L227.6 378.61 L225.4 381.98 L223.2 383.16 L221 386.32 L218.8 392.29 L216.6 393.69 L214.4 395.27 L212.2 398.61 L210 398.86 L207.8 396.25 L205.6 389.45 L203.4 384.76 L201.2 385.06 L199 386.74 L196.8 390.79 L194.6 391.94 L192.4 390.53 L190.2 386.23 L188 381.6 L185.8 378.86 L183.6 381.83 L181.4 382.86 L179.2 380.8 L177 377.46 L174.8 375.2 L172.6 380.36 L170.4 381.98 L168.2 387.57 L166 390.81 L163.8 394.62 L161.6 393.84 L159.4 393.67 L157.2 392.79 L155 387.17 L152.8 386.67 L150.6 383.89 L148.4 390.79 L146.2 397.39 L144 397.6 L141.8 398.24 L139.6 397.51 L137.4 396.71 L135.2 391.38 L133 389.81 L130.8 384.21 L128.6 382.76 L126.4 376.41 L124.2 373.37 L122 376.26 L119.8 382.49 L117.6 387.02 L115.4 394.85 L113.2 397.45 L111 396.46 L108.8 394.57 L106.6 394.01 L104.4 389.77 L102.2 388.14 L100 386.8 L97.8 387.17 L95.6 384.33 L93.4 384.1 L91.2 382.88 L89 375.91 L86.8 372.62 L84.6 369.06 L82.4 372.81 L80.2 379.6 L78 384.29Z" fill="#ec6f78" fill-opacity="0.3" stroke="none"/>
<line x1="70.5" y1="377.8" x2="426.3" y2="377.8" stroke="#1e1e1e" stroke-width="1.7" stroke-dasharray="7.5 7.6" stroke-dashoffset="-0.5"/>
<path d="M78 386.7 L78.93 387.18 L80.28 387.91 L81.75 388.41 L83.1 388.2 L84.21 386.89 L85.25 384.82 L86.31 382.62 L87.5 380.9 L88.87 379.87 L90.36 379.18 L91.9 378.63 L93.4 378 L94.82 377.07 L96.21 376 L97.65 375.18 L99.2 375 L100.99 375.74 L102.94 377.13 L104.84 378.73 L106.5 380.1 L107.77 381.42 L108.79 382.82 L109.77 383.79 L110.9 383.8 L112.25 382.36 L113.71 379.86 L115.21 377.13 L116.7 375 L118.21 373.57 L119.74 372.42 L121.24 371.67 L122.6 371.4 L123.79 372.05 L124.84 373.43 L125.86 374.7 L126.9 375 L127.98 373.82 L129.05 371.71 L130.15 369.42 L131.3 367.7 L132.56 366.6 L133.89 365.77 L135.21 365.36 L136.4 365.5 L137.37 366.51 L138.21 368.23 L139.06 370.05 L140.1 371.4 L141.4 372.13 L142.86 372.56 L144.39 372.75 L145.9 372.8 L147.37 372.51 L148.85 371.91 L150.33 371.41 L151.8 371.4 L153.27 372.13 L154.75 373.33 L156.2 374.67 L157.6 375.8 L158.92 376.82 L160.19 377.84 L161.44 378.57 L162.7 378.7 L163.95 377.9 L165.19 376.41 L166.46 374.8 L167.8 373.6 L169.26 372.81 L170.8 372.18 L172.34 371.93 L173.8 372.3 L175.17 373.66 L176.5 375.78 L177.75 377.99 L178.9 379.6 L179.89 380.41 L180.74 380.79 L181.58 380.93 L182.5 381 L183.53 381.06 L184.61 381.02 L185.73 380.81 L186.9 380.4 L188.14 379.64 L189.45 378.6 L190.76 377.54 L192 376.7 L193.13 376.05 L194.2 375.5 L195.27 375.2 L196.4 375.3 L197.57 375.85 L198.77 376.77 L200.05 378.03 L201.5 379.6 L203.24 381.95 L205.19 384.94 L207.13 387.63 L208.8 389.1 L210.1 388.85 L211.18 387.46 L212.17 385.62 L213.2 384 L214.3 382.73 L215.41 381.45 L216.51 380.18 L217.6 378.9 L218.64 377.56 L219.66 376.17 L220.71 374.87 L221.9 373.8 L223.3 372.94 L224.84 372.24 L226.39 371.77 L227.8 371.6 L229.01 371.86 L230.1 372.47 L231.14 373.2 L232.2 373.8 L233.31 374.53 L234.44 375.42 L235.52 375.87 L236.5 375.3 L237.31 373.44 L238 370.64 L238.69 367.24 L239.5 363.6 L240.48 359.19 L241.56 354.03 L242.69 349.28 L243.8 346.1 L244.89 344.88 L245.99 344.98 L247.1 345.98 L248.2 347.5 L249.3 349.87 L250.4 353.16 L251.5 356.55 L252.6 359.2 L253.63 360.83 L254.61 361.9 L255.68 362.72 L257 363.6 L258.74 364.64 L260.78 365.68 L262.81 366.6 L264.5 367.3 L265.76 367.78 L266.76 368.09 L267.6 368.18 L268.4 368 L269.08 367.46 L269.61 366.6 L270.19 365.62 L271 364.7 L272.2 363.84 L273.65 362.97 L275.1 362.13 L276.3 361.4 L277.12 361.01 L277.73 360.85 L278.26 360.47 L278.9 359.4 L279.66 357.34 L280.47 354.6 L281.32 351.63 L282.2 348.9 L283.15 346.31 L284.15 343.69 L285.15 341.37 L286.1 339.7 L286.98 338.85 L287.83 338.62 L288.64 338.75 L289.4 339 L290.1 339.56 L290.74 340.48 L291.36 341.29 L292 341.5 L292.64 340.97 L293.27 339.95 L293.94 338.61 L294.7 337.1 L295.59 335.4 L296.57 333.45 L297.59 331.35 L298.6 329.2 L299.63 326.93 L300.68 324.52 L301.7 322.15 L302.6 320 L303.31 317.96 L303.88 315.99 L304.46 314.35 L305.2 313.3 L306.19 313.06 L307.34 313.44 L308.51 314.1 L309.6 314.7 L310.54 315.3 L311.4 316.02 L312.26 316.64 L313.2 316.9 L314.24 316.54 L315.35 315.75 L316.48 314.99 L317.6 314.7 L318.7 315.08 L319.8 315.86 L320.9 316.81 L322 317.7 L323.13 318.64 L324.29 319.7 L325.4 320.58 L326.4 321 L327.22 320.87 L327.9 320.36 L328.58 319.52 L329.4 318.4 L330.4 316.75 L331.52 314.63 L332.67 312.57 L333.8 311.1 L334.91 310.34 L336.04 310.03 L337.12 310.07 L338.1 310.4 L338.94 311.17 L339.69 312.37 L340.39 313.66 L341.1 314.7 L341.8 315.43 L342.46 316.02 L343.17 316.5 L344 316.9 L345 317.25 L346.11 317.53 L347.27 317.69 L348.4 317.7 L349.51 317.38 L350.64 316.82 L351.72 316.32 L352.7 316.2 L353.51 316.75 L354.2 317.74 L354.89 318.68 L355.7 319.1 L356.68 318.71 L357.76 317.83 L358.89 316.86 L360 316.2 L361.09 315.96 L362.19 315.93 L363.3 316.03 L364.4 316.2 L365.54 316.5 L366.69 316.95 L367.81 317.4 L368.8 317.7 L369.6 317.65 L370.25 317.39 L370.9 317.28 L371.7 317.7 L372.71 318.93 L373.86 320.72 L375.02 322.62 L376.1 324.2 L377.05 325.49 L377.94 326.67 L378.81 327.55 L379.7 327.9 L380.6 327.48 L381.5 326.47 L382.42 325.3 L383.4 324.4 L384.45 323.71 L385.56 323.06 L386.68 322.71 L387.8 322.9 L388.9 323.79 L390.01 325.21 L391.11 326.95 L392.2 328.8 L393.28 330.81 L394.35 333.06 L395.42 335.36 L396.5 337.5 L397.59 339.46 L398.69 341.32 L399.8 343.11 L400.9 344.8 L402 346.41 L403.1 347.94 L404.2 349.37 L405.3 350.7 L406.44 351.92 L407.59 353.03 L408.71 354.05 L409.7 355 L410.5 356.01 L411.15 357.04 L411.8 357.8 L412.6 358 L413.63 357.4 L414.8 356.22 L415.97 354.82 L417 353.6 L417.9 352.54 L418.73 351.48 L419.41 350.55 L419.9 349.9" fill="none" stroke="#6a3d9a" stroke-width="1.3" stroke-linejoin="round" stroke-linecap="round"/>
<path d="M78 372 L78.67 369.29 L79.64 365.31 L80.72 361.43 L81.7 359 L82.54 358.56 L83.33 359.33 L84.14 360.69 L85 362 L85.91 363.27 L86.84 364.76 L87.86 366.3 L89 367.7 L90.3 368.89 L91.74 369.98 L93.25 371.03 L94.8 372.1 L96.46 373.2 L98.24 374.29 L99.94 375.39 L101.4 376.5 L102.49 377.62 L103.34 378.76 L104.11 379.89 L105 381 L106.01 382.29 L107.06 383.7 L108.18 384.83 L109.4 385.3 L110.79 384.92 L112.31 383.93 L113.85 382.55 L115.3 381 L116.61 378.98 L117.86 376.49 L119.09 374.21 L120.4 372.8 L121.82 372.46 L123.3 372.84 L124.78 373.74 L126.2 375 L127.54 376.77 L128.84 379.08 L130.09 381.55 L131.3 383.8 L132.45 385.97 L133.54 388.18 L134.62 390.03 L135.7 391.1 L136.77 391.26 L137.81 390.74 L138.9 389.68 L140.1 388.2 L141.5 386.03 L143.04 383.19 L144.56 380.31 L145.9 378 L146.94 376.25 L147.79 374.8 L148.63 373.85 L149.6 373.6 L150.76 374.26 L152.02 375.68 L153.34 377.5 L154.7 379.4 L156.13 381.56 L157.64 384.07 L159.13 386.45 L160.5 388.2 L161.68 389.26 L162.74 389.86 L163.78 389.99 L164.9 389.6 L166.13 388.5 L167.41 386.76 L168.72 384.8 L170 383 L171.26 381.41 L172.51 379.84 L173.75 378.35 L175 377 L176.24 375.93 L177.47 375.07 L178.72 374.18 L180 373 L181.35 371.03 L182.74 368.56 L184.11 366.5 L185.4 365.8 L186.54 367.05 L187.57 369.64 L188.62 372.69 L189.8 375.3 L191.17 377.38 L192.66 379.36 L194.2 381.14 L195.7 382.6 L197.16 383.77 L198.61 384.69 L200.05 385.29 L201.5 385.5 L202.95 385.05 L204.39 384.05 L205.84 383.05 L207.3 382.6 L208.77 383.19 L210.25 384.42 L211.73 385.46 L213.2 385.5 L214.65 384.1 L216.1 381.78 L217.55 379.12 L219 376.7 L220.47 374.59 L221.95 372.52 L223.43 370.53 L224.9 368.7 L226.41 366.75 L227.94 364.74 L229.41 363.24 L230.7 362.8 L231.75 364.07 L232.63 366.58 L233.44 369.22 L234.3 370.9 L235.24 371.57 L236.19 371.75 L237.13 371.12 L238 369.4 L238.76 366.08 L239.45 361.47 L240.14 356.45 L240.9 351.9 L241.77 347.53 L242.71 343.05 L243.66 339.34 L244.6 337.3 L245.49 337.41 L246.36 339.12 L247.25 341.75 L248.2 344.6 L249.25 347.86 L250.38 351.77 L251.51 355.74 L252.6 359.2 L253.6 362.04 L254.55 364.56 L255.53 366.75 L256.6 368.6 L257.84 369.97 L259.2 370.9 L260.56 371.68 L261.8 372.6 L262.89 373.96 L263.88 375.53 L264.84 376.78 L265.8 377.2 L266.8 376.47 L267.79 374.94 L268.77 373.03 L269.7 371.2 L270.54 369.36 L271.31 367.35 L272.1 365.46 L273 364 L274.07 363.36 L275.26 363.29 L276.47 363.07 L277.6 362 L278.62 359.68 L279.59 356.55 L280.53 353.2 L281.5 350.2 L282.5 347.41 L283.5 344.61 L284.5 342.31 L285.5 341 L286.48 341.18 L287.45 342.47 L288.42 344.02 L289.4 345 L290.4 345.37 L291.4 345.51 L292.4 345.23 L293.4 344.3 L294.37 342.43 L295.31 339.81 L296.28 336.99 L297.3 334.5 L298.43 332.25 L299.64 330.03 L300.83 328.22 L301.9 327.2 L302.8 327.42 L303.59 328.56 L304.36 329.84 L305.2 330.5 L306.13 330.14 L307.11 329.24 L308.1 328.32 L309.1 327.9 L310.06 328.15 L311.02 328.79 L312.01 329.63 L313.1 330.5 L314.34 331.53 L315.7 332.75 L317.06 333.85 L318.3 334.5 L319.39 334.53 L320.38 334.13 L321.34 333.57 L322.3 333.1 L323.27 332.95 L324.21 332.93 L325.18 332.66 L326.2 331.8 L327.27 329.95 L328.37 327.4 L329.54 324.8 L330.8 322.8 L332.22 321.63 L333.76 320.93 L335.3 320.43 L336.7 319.9 L337.94 319.25 L339.09 318.62 L340.14 318.08 L341.1 317.7 L341.93 317.66 L342.64 317.88 L343.31 318.01 L344 317.7 L344.74 316.6 L345.49 314.97 L346.22 313.43 L346.9 312.6 L347.47 312.68 L347.96 313.33 L348.47 314.33 L349.1 315.5 L349.88 317.01 L350.76 318.88 L351.71 320.69 L352.7 322 L353.76 322.69 L354.89 322.99 L356.03 322.99 L357.1 322.8 L358.08 322.23 L359 321.31 L359.9 320.41 L360.8 319.9 L361.65 319.95 L362.46 320.32 L363.34 320.84 L364.4 321.3 L365.75 321.6 L367.31 321.86 L368.88 322.22 L370.3 322.8 L371.45 323.7 L372.45 324.82 L373.45 326.04 L374.6 327.2 L375.96 328.38 L377.46 329.62 L378.99 330.73 L380.5 331.5 L381.99 331.76 L383.49 331.64 L384.95 331.46 L386.3 331.5 L387.5 331.79 L388.59 332.19 L389.64 332.74 L390.7 333.5 L391.81 334.54 L392.94 335.82 L394.02 337.19 L395 338.5 L395.81 339.73 L396.49 340.94 L397.18 342.16 L398 343.4 L399 344.7 L400.11 346.03 L401.27 347.33 L402.4 348.5 L403.47 349.52 L404.51 350.44 L405.6 351.28 L406.8 352.1 L408.18 352.89 L409.7 353.64 L411.22 354.34 L412.6 355 L413.83 355.6 L414.98 356.14 L416.04 356.67 L417 357.2 L417.9 357.8 L418.73 358.44 L419.41 359 L419.9 359.4" fill="none" stroke="#d47ef6" stroke-width="1.3" stroke-linejoin="round" stroke-linecap="round"/>
<path d="M78 383.1 L78.7 382.01 L79.7 380.44 L80.85 378.68 L82 377 L83.14 375.17 L84.33 373.15 L85.56 371.48 L86.8 370.7 L88.09 371.23 L89.43 372.67 L90.72 374.41 L91.9 375.8 L92.87 376.89 L93.69 377.94 L94.52 378.65 L95.5 378.7 L96.71 377.53 L98.06 375.47 L99.43 373.55 L100.7 372.8 L101.82 373.53 L102.86 375.17 L103.89 377.45 L105 380.1 L106.25 383.77 L107.59 388.36 L108.9 392.47 L110.1 394.7 L111.09 394.48 L111.95 392.61 L112.81 389.79 L113.8 386.7 L114.99 382.84 L116.31 378.07 L117.64 373.61 L118.9 370.7 L120.05 369.91 L121.14 370.52 L122.22 371.74 L123.3 372.8 L124.42 373.96 L125.55 375.47 L126.66 376.57 L127.7 376.5 L128.64 374.57 L129.5 371.36 L130.36 367.97 L131.3 365.5 L132.36 364.06 L133.5 363.13 L134.64 362.85 L135.7 363.4 L136.65 365.22 L137.54 368.09 L138.41 371.17 L139.3 373.6 L140.22 375.38 L141.16 376.88 L142.09 377.84 L143 378 L143.88 377 L144.74 375.07 L145.61 372.86 L146.5 371 L147.4 369.35 L148.3 367.67 L149.25 366.48 L150.3 366.3 L151.48 367.39 L152.77 369.44 L154.09 372.1 L155.4 375 L156.69 378.51 L157.99 382.66 L159.27 386.63 L160.5 389.6 L161.68 391.47 L162.83 392.64 L163.91 393.04 L164.9 392.6 L165.72 391.02 L166.4 388.43 L167.08 385.43 L167.9 382.6 L168.9 379.7 L170.01 376.55 L171.17 373.85 L172.3 372.3 L173.44 372.37 L174.59 373.58 L175.71 375.26 L176.7 376.7 L177.46 377.94 L178.06 379.27 L178.71 380.41 L179.6 381.1 L180.86 380.9 L182.36 380.08 L183.93 379.39 L185.4 379.6 L186.76 381.5 L188.08 384.5 L189.34 387.25 L190.5 388.4 L191.51 387.24 L192.39 384.61 L193.26 381.5 L194.2 378.9 L195.25 376.84 L196.36 374.87 L197.48 373.26 L198.6 372.3 L199.7 372.35 L200.81 373.17 L201.91 374.1 L203 374.5 L204.1 373.95 L205.19 372.87 L206.27 371.88 L207.3 371.6 L208.29 372.26 L209.24 373.51 L210.15 375.08 L211 376.7 L211.76 378.63 L212.45 380.89 L213.14 382.89 L213.9 384 L214.74 383.99 L215.61 383.21 L216.56 381.92 L217.6 380.4 L218.81 378.39 L220.16 375.87 L221.5 373.41 L222.7 371.6 L223.67 370.61 L224.5 370.11 L225.33 369.99 L226.3 370.1 L227.52 370.67 L228.89 371.69 L230.24 372.67 L231.4 373.1 L232.28 372.96 L232.98 372.47 L233.62 371.55 L234.3 370.1 L235.06 368.09 L235.84 365.56 L236.6 362.57 L237.3 359.2 L237.91 355.2 L238.46 350.62 L238.98 345.96 L239.5 341.7 L240.01 337.83 L240.51 334.14 L241 330.81 L241.5 328 L242 325.68 L242.5 323.78 L243 322.44 L243.5 321.8 L244 321.98 L244.5 322.89 L245 324.3 L245.5 326 L245.99 328.05 L246.47 330.54 L246.96 333.25 L247.5 336 L248.06 338.87 L248.63 341.93 L249.26 344.92 L250 347.6 L250.89 349.93 L251.9 352.03 L252.93 353.89 L253.9 355.5 L254.78 356.89 L255.62 358.07 L256.43 358.93 L257.2 359.4 L257.92 359.53 L258.59 359.34 L259.25 358.68 L259.9 357.4 L260.56 355.31 L261.21 352.55 L261.85 349.44 L262.5 346.3 L263.15 343.15 L263.8 339.82 L264.45 336.44 L265.1 333.1 L265.72 330.03 L266.32 327.1 L266.96 323.9 L267.7 320 L268.59 314.99 L269.58 309.19 L270.61 303.29 L271.6 298 L272.56 293.27 L273.51 288.81 L274.44 284.91 L275.3 281.9 L276.1 279.96 L276.84 278.91 L277.54 278.42 L278.2 278.2 L278.77 278.47 L279.26 279.29 L279.77 280.12 L280.4 280.4 L281.15 279.87 L281.97 278.87 L282.91 277.74 L284 276.8 L285.28 276.08 L286.72 275.43 L288.27 274.91 L289.9 274.6 L291.75 274.47 L293.79 274.49 L295.71 274.75 L297.2 275.3 L298.07 276.3 L298.52 277.66 L298.83 279.12 L299.3 280.4 L299.97 281.39 L300.71 282.25 L301.49 283.11 L302.3 284.1 L303.16 285.36 L304.06 286.79 L304.98 288.15 L305.9 289.2 L306.82 289.81 L307.75 290.14 L308.68 290.37 L309.6 290.7 L310.49 291.11 L311.36 291.52 L312.25 292.04 L313.2 292.8 L314.26 294.02 L315.4 295.58 L316.54 297.05 L317.6 298 L318.55 298.29 L319.44 298.15 L320.31 297.74 L321.2 297.2 L322.13 296.36 L323.09 295.21 L324.02 294.16 L324.9 293.6 L325.72 293.61 L326.49 293.98 L327.22 294.71 L327.9 295.8 L328.51 297.44 L329.05 299.58 L329.57 301.82 L330.1 303.8 L330.6 305.52 L331.06 307.15 L331.6 308.55 L332.3 309.6 L333.28 310.29 L334.46 310.68 L335.65 310.73 L336.7 310.4 L337.51 309.52 L338.2 308.17 L338.86 306.66 L339.6 305.3 L340.45 304.25 L341.35 303.33 L342.28 302.29 L343.2 300.9 L344.1 299.03 L345 296.82 L345.92 294.45 L346.9 292.1 L347.99 289.6 L349.15 286.94 L350.29 284.48 L351.3 282.6 L352.13 281.56 L352.84 281.11 L353.51 280.85 L354.2 280.4 L354.93 279.47 L355.65 278.32 L356.37 277.42 L357.1 277.2 L357.81 277.97 L358.5 279.42 L359.22 281.12 L360 282.6 L360.89 283.79 L361.85 284.91 L362.81 285.97 L363.7 287 L364.46 288.01 L365.15 288.99 L365.84 289.9 L366.6 290.7 L367.49 291.34 L368.45 291.84 L369.41 292.31 L370.3 292.8 L371.06 293.38 L371.76 293.98 L372.44 294.55 L373.2 295 L374.08 295.18 L375.04 295.17 L375.98 295.28 L376.8 295.8 L377.46 296.74 L378.03 297.98 L378.53 299.57 L379 301.6 L379.43 304.22 L379.8 307.34 L380.15 310.69 L380.5 314 L380.85 317.25 L381.2 320.57 L381.55 323.91 L381.9 327.2 L382.24 330.53 L382.56 333.89 L382.92 337.11 L383.4 340 L384.03 342.65 L384.76 345.1 L385.54 347.13 L386.3 348.5 L387.04 349.04 L387.79 348.9 L388.52 348.36 L389.2 347.7 L389.77 346.82 L390.26 345.64 L390.77 344.41 L391.4 343.4 L392.25 342.63 L393.24 341.99 L394.21 341.5 L395 341.2 L395.52 341.32 L395.88 341.77 L396.17 342.11 L396.5 341.9 L396.84 340.84 L397.16 339.23 L397.53 337.51 L398 336.1 L398.56 335.1 L399.18 334.29 L399.93 333.63 L400.9 333.1 L402.17 332.78 L403.67 332.64 L405.26 332.54 L406.8 332.3 L408.29 331.87 L409.79 331.34 L411.25 330.77 L412.6 330.2 L413.83 329.63 L414.98 329.05 L416.04 328.47 L417 327.9 L417.9 327.31 L418.73 326.71 L419.41 326.17 L419.9 325.8" fill="none" stroke="#000000" stroke-width="1.45" stroke-linejoin="round" stroke-linecap="round"/>
<path d="M78 374.7 L79.08 371.66 L80.63 367.18 L82.34 362.89 L83.9 360.4 L85.28 360.41 L86.64 361.96 L87.9 364.2 L89 366.3 L89.81 368.3 L90.41 370.57 L91.02 372.71 L91.9 374.3 L93.2 375.15 L94.75 375.51 L96.33 375.63 L97.7 375.8 L98.76 375.91 L99.64 375.88 L100.48 375.99 L101.4 376.5 L102.43 377.61 L103.51 379.12 L104.63 380.78 L105.8 382.3 L107.04 383.83 L108.35 385.44 L109.66 386.75 L110.9 387.4 L112.07 387.23 L113.19 386.47 L114.27 385.27 L115.3 383.8 L116.24 382.01 L117.1 379.83 L117.96 377.44 L118.9 375 L119.94 372.12 L121.05 368.86 L122.18 366.05 L123.3 364.5 L124.38 364.64 L125.46 365.95 L126.55 367.89 L127.7 369.9 L128.91 372.04 L130.16 374.53 L131.46 377.08 L132.8 379.4 L134.25 381.48 L135.79 383.46 L137.28 385.24 L138.6 386.7 L139.66 387.9 L140.54 388.88 L141.38 389.48 L142.3 389.6 L143.33 389.19 L144.41 388.32 L145.5 387.01 L146.6 385.3 L147.71 382.68 L148.84 379.3 L149.95 376.17 L151 374.3 L151.96 374.16 L152.86 375.14 L153.75 376.63 L154.7 378 L155.7 379.28 L156.71 380.74 L157.8 382.1 L159 383.1 L160.4 383.84 L161.94 384.39 L163.49 384.48 L164.9 383.8 L166.09 381.99 L167.16 379.3 L168.22 376.36 L169.4 373.8 L170.79 371.48 L172.31 369.16 L173.82 367.34 L175.2 366.5 L176.43 367.15 L177.58 368.89 L178.64 370.89 L179.6 372.3 L180.41 373 L181.09 373.4 L181.75 373.45 L182.5 373.1 L183.37 371.88 L184.31 369.98 L185.26 368.28 L186.2 367.7 L187.1 368.69 L188 370.71 L188.9 373.12 L189.8 375.3 L190.7 377.42 L191.61 379.7 L192.53 381.6 L193.5 382.6 L194.51 382.29 L195.56 381.04 L196.65 379.47 L197.8 378.2 L199.06 377.1 L200.4 375.93 L201.74 375.17 L203 375.3 L204.14 376.76 L205.2 379.19 L206.24 381.86 L207.3 384 L208.39 385.59 L209.49 386.97 L210.6 387.97 L211.7 388.4 L212.8 388.11 L213.9 387.23 L215 386.01 L216.1 384.7 L217.2 383.26 L218.3 381.59 L219.4 379.85 L220.5 378.2 L221.6 376.6 L222.71 374.98 L223.81 373.5 L224.9 372.3 L226 371.22 L227.09 370.24 L228.17 369.74 L229.2 370.1 L230.17 371.94 L231.09 374.89 L232 377.82 L232.9 379.6 L233.82 379.95 L234.74 379.48 L235.64 378.33 L236.5 376.7 L237.29 374.46 L238.04 371.58 L238.77 368.34 L239.5 365 L240.24 361.42 L240.98 357.53 L241.7 353.72 L242.4 350.4 L243.06 347.4 L243.68 344.61 L244.31 342.46 L245 341.4 L245.79 341.94 L246.65 343.72 L247.48 345.86 L248.2 347.5 L248.7 348.26 L249.06 348.66 L249.44 349.15 L250 350.2 L250.83 352.2 L251.81 354.81 L252.87 357.41 L253.9 359.4 L254.9 360.42 L255.9 360.86 L256.9 361.22 L257.9 362 L258.9 363.46 L259.89 365.3 L260.87 367.14 L261.8 368.6 L262.67 369.64 L263.49 370.43 L264.29 370.96 L265.1 371.2 L265.91 371.1 L266.71 370.7 L267.53 370.07 L268.4 369.3 L269.36 368.2 L270.39 366.8 L271.4 365.5 L272.3 364.7 L273.06 364.56 L273.73 364.86 L274.36 365.4 L275 366 L275.63 366.93 L276.22 368.19 L276.86 369.17 L277.6 369.3 L278.48 368.16 L279.46 366.14 L280.49 363.88 L281.5 362 L282.5 360.38 L283.5 358.79 L284.5 357.65 L285.5 357.4 L286.48 358.58 L287.45 360.81 L288.42 363.16 L289.4 364.7 L290.4 365.15 L291.4 365.01 L292.4 364.55 L293.4 364 L294.37 363.4 L295.31 362.63 L296.28 361.72 L297.3 360.7 L298.43 359.46 L299.64 358.02 L300.83 356.62 L301.9 355.5 L302.79 354.67 L303.55 354.01 L304.31 353.6 L305.2 353.5 L306.26 354 L307.42 354.96 L308.62 355.85 L309.8 356.1 L310.97 355.47 L312.14 354.29 L313.3 352.86 L314.4 351.5 L315.42 350.27 L316.39 349.03 L317.33 347.71 L318.3 346.3 L319.3 344.76 L320.3 343.13 L321.3 341.43 L322.3 339.7 L323.3 337.92 L324.3 336.07 L325.28 334.24 L326.2 332.5 L327 330.93 L327.72 329.46 L328.48 327.98 L329.4 326.4 L330.56 324.49 L331.87 322.37 L333.23 320.44 L334.5 319.1 L335.67 318.5 L336.79 318.41 L337.87 318.67 L338.9 319.1 L339.85 319.78 L340.74 320.77 L341.61 321.84 L342.5 322.8 L343.4 323.72 L344.31 324.66 L345.23 325.4 L346.2 325.7 L347.25 325.33 L348.35 324.48 L349.45 323.51 L350.5 322.8 L351.47 322.35 L352.39 321.99 L353.3 321.83 L354.2 322 L355.09 322.66 L355.97 323.72 L356.86 324.84 L357.8 325.7 L358.78 326.19 L359.79 326.48 L360.86 326.71 L362 327 L363.26 327.38 L364.62 327.79 L365.99 328.21 L367.3 328.6 L368.55 328.89 L369.77 329.12 L370.93 329.44 L372 330 L372.94 331.04 L373.77 332.4 L374.57 333.69 L375.4 334.5 L376.28 334.68 L377.18 334.47 L378.09 334.02 L379 333.5 L379.92 332.76 L380.85 331.78 L381.78 330.9 L382.7 330.5 L383.62 330.58 L384.55 330.97 L385.45 331.78 L386.3 333.1 L387.07 335.2 L387.79 337.96 L388.48 340.86 L389.2 343.4 L389.95 345.47 L390.71 347.33 L391.46 349.05 L392.2 350.7 L392.91 352.43 L393.6 354.15 L394.29 355.6 L395 356.5 L395.74 356.53 L396.49 355.93 L397.25 355.23 L398 355 L398.73 355.5 L399.46 356.39 L400.18 357.34 L400.9 358 L401.59 358.27 L402.26 358.35 L402.97 358.3 L403.8 358.2 L404.83 358.07 L406 357.87 L407.17 357.58 L408.2 357.2 L409.03 356.61 L409.74 355.87 L410.41 355.16 L411.1 354.7 L411.82 354.51 L412.54 354.51 L413.27 354.67 L414 355 L414.75 355.53 L415.51 356.25 L416.26 357.1 L417 358 L417.78 359.08 L418.59 360.34 L419.3 361.5 L419.8 362.3" fill="none" stroke="#e31a1c" stroke-width="1.4" stroke-linejoin="round" stroke-linecap="round"/>
<text x="0.4" y="471.1" font-size="14" fill="#000" font-weight="bold" stroke="#000" stroke-width="0.35">e</text>
<line x1="70.5" y1="474.5" x2="70.5" y2="637" stroke="#6e6e6e" stroke-width="1"/>
<line x1="70" y1="636.5" x2="426.5" y2="636.5" stroke="#6e6e6e" stroke-width="1"/>
<line x1="66" y1="629.7" x2="70.8" y2="629.7" stroke="#777777" stroke-width="1"/>
<text x="61.6" y="633.4" font-size="12.2" fill="#111111" text-anchor="end">−0.5</text>
<line x1="66" y1="611.2" x2="70.8" y2="611.2" stroke="#777777" stroke-width="1"/>
<text x="61.6" y="614.9" font-size="12.2" fill="#111111" text-anchor="end">0</text>
<line x1="66" y1="592.7" x2="70.8" y2="592.7" stroke="#777777" stroke-width="1"/>
<text x="61.6" y="596.4" font-size="12.2" fill="#111111" text-anchor="end">0.5</text>
<line x1="66" y1="574.2" x2="70.8" y2="574.2" stroke="#777777" stroke-width="1"/>
<text x="61.6" y="577.9" font-size="12.2" fill="#111111" text-anchor="end">1.0</text>
<line x1="66" y1="555.7" x2="70.8" y2="555.7" stroke="#777777" stroke-width="1"/>
<text x="61.6" y="559.4" font-size="12.2" fill="#111111" text-anchor="end">1.5</text>
<line x1="66" y1="537.2" x2="70.8" y2="537.2" stroke="#777777" stroke-width="1"/>
<text x="61.6" y="540.9" font-size="12.2" fill="#111111" text-anchor="end">2.0</text>
<line x1="66" y1="518.7" x2="70.8" y2="518.7" stroke="#777777" stroke-width="1"/>
<text x="61.6" y="522.4" font-size="12.2" fill="#111111" text-anchor="end">2.5</text>
<line x1="66" y1="500.2" x2="70.8" y2="500.2" stroke="#777777" stroke-width="1"/>
<text x="61.6" y="503.9" font-size="12.2" fill="#111111" text-anchor="end">3.0</text>
<line x1="66" y1="481.7" x2="70.8" y2="481.7" stroke="#777777" stroke-width="1"/>
<text x="61.6" y="485.4" font-size="12.2" fill="#111111" text-anchor="end">3.5</text>
<line x1="73.1" y1="637" x2="73.1" y2="641.6" stroke="#777777" stroke-width="1"/>
<text x="73.1" y="655.8" font-size="12.2" fill="#111111" text-anchor="middle">−3</text>
<line x1="123.3" y1="637" x2="123.3" y2="641.6" stroke="#777777" stroke-width="1"/>
<text x="123.3" y="655.8" font-size="12.2" fill="#111111" text-anchor="middle">−2</text>
<line x1="173.5" y1="637" x2="173.5" y2="641.6" stroke="#777777" stroke-width="1"/>
<text x="173.5" y="655.8" font-size="12.2" fill="#111111" text-anchor="middle">−1</text>
<line x1="223.7" y1="637" x2="223.7" y2="641.6" stroke="#777777" stroke-width="1"/>
<text x="223.7" y="655.8" font-size="12.2" fill="#111111" text-anchor="middle">0</text>
<line x1="273.9" y1="637" x2="273.9" y2="641.6" stroke="#777777" stroke-width="1"/>
<text x="273.9" y="655.8" font-size="12.2" fill="#111111" text-anchor="middle">1</text>
<line x1="324.1" y1="637" x2="324.1" y2="641.6" stroke="#777777" stroke-width="1"/>
<text x="324.1" y="655.8" font-size="12.2" fill="#111111" text-anchor="middle">2</text>
<line x1="374.3" y1="637" x2="374.3" y2="641.6" stroke="#777777" stroke-width="1"/>
<text x="374.3" y="655.8" font-size="12.2" fill="#111111" text-anchor="middle">3</text>
<line x1="424.5" y1="637" x2="424.5" y2="641.6" stroke="#777777" stroke-width="1"/>
<text x="424.5" y="655.8" font-size="12.2" fill="#111111" text-anchor="middle">4</text>
<text x="248.8" y="672.7" font-size="12.2" fill="#111111" text-anchor="middle" textLength="64.5" lengthAdjust="spacingAndGlyphs">Time (d.p.i.)</text>
<text x="19.3" y="555.8" font-size="12.2" fill="#111111" text-anchor="middle" transform="rotate(-90 19.3 555.8)" textLength="160.5" lengthAdjust="spacingAndGlyphs">Change in mean temperature</text>
<text x="34.3" y="555.7" font-size="12.2" fill="#111111" text-anchor="middle" transform="rotate(-90 34.3 555.7)">(°C)</text>
<text x="77.5" y="485.7" font-size="12.2" fill="#111111">H5N6<tspan font-size="8.7" dy="2.9" dx="0.3">Sichuan</tspan><tspan dy="-2.9" dx="0.4"> challenge</tspan></text>
<path d="M78 598 L79.56 596.59 L81.78 594.74 L84 594 L86 595.33 L88 597.78 L90 600 L92 601.67 L94 603.11 L96 604 L98 604.15 L100 603.74 L102 603 L104 601.81 L106 600.3 L108 599 L110 598 L112 597.22 L114 597 L116 597.89 L118 599.33 L120 600 L122 599.19 L124 597.59 L126 596 L128.04 594.22 L130.07 592.44 L132 592 L133.74 594.22 L135.37 597.78 L137 600 L138.67 599.63 L140.33 597.93 L142 596 L143.67 593.7 L145.33 591.19 L147 590 L148.63 591.26 L150.26 593.85 L152 596 L153.93 597.04 L155.96 597.63 L158 598 L160 598.07 L162 597.93 L164 598 L166 598.74 L168 599.7 L170 600 L172.04 599.11 L174.07 597.56 L176 596 L177.74 594.22 L179.37 592.44 L181 592 L182.67 593.85 L184.33 597.04 L186 600 L187.67 602.7 L189.33 605.19 L191 606 L192.7 603.96 L194.41 600.26 L196 597 L197.37 594.56 L198.63 592.56 L200 592 L201.59 594 L203.3 597.44 L205 600 L206.67 600.67 L208.33 600.44 L210 600 L211.63 599.37 L213.26 598.52 L215 598 L216.96 598.33 L219.04 599 L221 599 L222.81 597.78 L224.52 595.89 L226 594 L227.15 591.89 L228.07 589.78 L229 589 L230 590.56 L231 593.44 L232 596 L233 598.15 L234 599.96 L235 600 L236.04 597.26 L237.07 592.74 L238 588 L238.7 583.19 L239.3 578.15 L240 574 L240.89 571 L241.89 568.89 L243 568 L244.26 568.78 L245.63 570.78 L247 573 L248.3 575.3 L249.59 577.81 L251 580 L252.56 581.63 L254.22 582.93 L256 584 L257.96 585.04 L260.04 585.85 L262 586 L263.74 585.41 L265.37 584.15 L267 582 L268.7 578.81 L270.41 574.74 L272 570 L273.44 564.52 L274.78 558.37 L276 552 L277.07 545.11 L278.04 538 L279 532 L280.02 527.7 L281.04 524.52 L282 522 L282.73 520.56 L283.39 519.78 L284.4 518 L286.07 514.13 L288.09 509.26 L290 505 L291.59 502.03 L293.07 499.67 L294.6 497.5 L296.31 495.14 L298.09 492.98 L299.7 491.7 L301.01 491.95 L302.17 493.09 L303.4 493.9 L304.79 494.01 L306.26 493.8 L307.8 493.1 L309.45 491.42 L311.17 489.26 L312.9 488 L314.63 488.21 L316.35 489.33 L318 491 L319.52 493.43 L320.96 496.41 L322.4 499 L323.87 500.82 L325.34 502.24 L326.8 503.4 L328.24 504.48 L329.66 505.31 L331.1 505.5 L332.56 505.07 L334.03 504.01 L335.5 501.9 L337.02 497.91 L338.54 492.87 L339.9 488.8 L341 486.55 L341.93 485.26 L342.8 484.4 L343.62 483.63 L344.38 483.28 L345.2 483.8 L346.1 485.34 L347.06 487.76 L348.1 491 L349.22 495.57 L350.43 500.97 L351.8 505.7 L353.45 509.47 L355.26 512.58 L356.9 514.4 L358.21 514.08 L359.35 512.47 L360.5 511.5 L361.7 511.98 L362.91 513.11 L364.2 514.4 L365.67 516.51 L367.22 518.8 L368.6 518.8 L369.7 514.3 L370.64 507.52 L371.5 502.7 L372.26 501.3 L372.94 501.86 L373.7 504.2 L374.59 509.23 L375.55 516.03 L376.6 521.7 L377.8 525.29 L379.1 527.75 L380.3 529 L381.33 528.61 L382.26 527.01 L383.2 525.4 L384.11 523.93 L385.02 522.45 L386.1 521.7 L387.46 522.34 L388.98 523.71 L390.5 524.6 L392 524.62 L393.49 524.16 L394.9 523.2 L396.19 521.48 L397.38 519.26 L398.5 517.3 L399.49 515.61 L400.4 514.17 L401.4 513.7 L402.55 514.73 L403.79 516.73 L405.1 518.8 L406.52 521 L408.01 523.29 L409.5 524.6 L410.88 524.14 L412.25 522.72 L413.8 521.7 L415.87 521.69 L418.11 522.09 L419.7 522.4 L419.7 570 L418.49 568.96 L416.76 567.48 L415 566 L413.39 564.74 L411.75 563.48 L410 562 L408.04 559.78 L405.96 557.33 L404 556 L402.22 556.52 L400.56 558.15 L399 560 L397.63 562.15 L396.37 564.52 L395 566 L393.41 565.89 L391.7 564.89 L390 564 L388.3 563.74 L386.59 563.59 L385 563 L383.59 561.93 L382.3 560.41 L381 558 L379.63 554.19 L378.26 549.48 L377 545 L375.89 540.78 L374.89 536.78 L374 534 L373.26 533.04 L372.63 533.3 L372 534 L371.41 535.22 L370.81 536.89 L370 538 L368.89 538.04 L367.56 537.52 L366 537 L364.11 536.67 L362 536.33 L360 536 L358.26 535.7 L356.63 535.41 L355 535 L353.3 534.41 L351.59 533.7 L350 533 L348.59 532.22 L347.3 531.44 L346 531 L344.67 531.04 L343.33 531.41 L342 532 L340.67 532.78 L339.33 533.78 L338 535 L336.67 536.56 L335.33 538.33 L334 540 L332.74 541.44 L331.48 542.78 L330 544 L328.15 545 L326.07 545.89 L324 547 L322 548.85 L320 550.93 L318 552 L316 551.3 L314 549.59 L312 548 L310 547 L308 546.11 L306 545 L304 543.22 L302 541.22 L300 540 L298 540.15 L296 541.07 L294 542 L291.93 542.59 L289.85 543.19 L288 544 L286.48 544.96 L285.19 546.15 L284 548 L282.93 550.74 L281.96 554.15 L281 558 L280 562.3 L279 567.04 L278 572 L277 577.33 L276 582.89 L275 588 L274.07 592.37 L273.15 596.3 L272 600 L270.48 603.74 L268.74 607.26 L267 610 L265.37 611.74 L263.74 612.7 L262 613 L260.04 612.41 L257.96 611.15 L256 610 L254.22 609.33 L252.56 608.78 L251 608 L249.59 606.78 L248.3 605.33 L247 604 L245.63 602.7 L244.26 601.52 L243 601 L241.89 601.19 L240.89 602.04 L240 604 L239.3 607.59 L238.7 612.3 L238 617 L237.07 622.04 L236.04 627.07 L235 630 L234 629.56 L233 627 L232 624 L231 620.37 L230 616.3 L229 614 L228.07 614.89 L227.15 617.56 L226 620 L224.52 621.7 L222.81 623.19 L221 624 L219.04 623.63 L216.96 622.59 L215 622 L213.26 622.41 L211.63 623.26 L210 624 L208.33 624.7 L206.67 625.3 L205 625 L203.3 622.81 L201.59 619.74 L200 618 L198.63 618.59 L197.37 620.52 L196 623 L194.41 626.56 L192.7 630.67 L191 633 L189.33 632.37 L187.67 629.96 L186 627 L184.33 623.19 L182.67 618.81 L181 616 L179.37 615.89 L177.74 617.33 L176 619 L174.07 620.74 L172.04 622.7 L170 624 L168 624.11 L166 623.56 L164 623 L162 622.7 L160 622.41 L158 622 L155.96 621.56 L153.93 621 L152 620 L150.26 617.81 L148.63 615.19 L147 614 L145.33 615.44 L143.67 618.33 L142 621 L140.33 623.33 L138.67 625.44 L137 626 L135.37 623.56 L133.74 619.56 L132 617 L130.07 617.44 L128.04 619.33 L126 621 L124 621.93 L122 622.63 L120 623 L118 622.78 L116 622.22 L114 622 L112 622.37 L110 623.07 L108 624 L106 625.3 L104 626.81 L102 628 L100 628.7 L98 629.07 L96 629 L94 628.41 L92 627.37 L90 626 L88 623.93 L86 621.52 L84 620 L81.78 620.15 L79.56 621.19 L78 622Z" fill="#a8a8a8" fill-opacity="0.48" stroke="none"/>
<path d="M78 593.63 L80.2 592.75 L82.4 589.69 L84.6 590.84 L86.8 595.85 L89 599.52 L91.2 599.31 L93.4 599.51 L95.6 595.92 L97.8 596.2 L100 599.21 L102.2 600.62 L104.4 602.86 L106.6 602.38 L108.8 604.3 L111 605.35 L113.2 605.09 L115.4 604.86 L117.6 605.29 L119.8 603.14 L122 599.62 L124.2 596.66 L126.4 597.27 L128.6 599.04 L130.8 601.65 L133 602.58 L135.2 599.62 L137.4 597.28 L139.6 594.57 L141.8 592.5 L144 593.95 L146.2 591.62 L148.4 589.65 L150.6 596.38 L152.8 600.38 L155 602.14 L157.2 603.08 L159.4 599.94 L161.6 599.91 L163.8 598 L166 597.29 L168.2 593.88 L170.4 593.92 L172.6 592.27 L174.8 591.35 L177 590.31 L179.2 590.32 L181.4 591.84 L183.6 596.9 L185.8 598.68 L188 600.87 L190.2 598.72 L192.4 597.99 L194.6 598.93 L196.8 599.44 L199 600.85 L201.2 599.48 L203.4 600.54 L205.6 599.95 L207.8 599.55 L210 596.36 L212.2 598.08 L214.4 595.01 L216.6 596.57 L218.8 596.37 L221 596.28 L223.2 597.1 L225.4 599.45 L227.6 606.29 L229.8 617.32 L232 618.77 L234.2 606.66 L236.4 583.67 L238.6 565.68 L240.8 561.55 L243 564.15 L245.2 570.83 L247.4 578.92 L249.6 585.53 L251.8 590.44 L254 589.77 L256.2 591.37 L258.4 592.8 L260.6 593.67 L262.8 591.51 L265 593.31 L267.2 590.45 L269.4 587.16 L271.6 581.22 L273.8 575.3 L276 564.93 L278.2 554.22 L280.4 544.55 L282.6 535.52 L284.8 523.99 L287 517.83 L289.2 509.44 L291.4 505.95 L293.6 503.1 L295.8 503.44 L298 502.32 L300.2 503.26 L302.4 503.38 L304.6 507.79 L306.8 507.64 L309 507.71 L311.2 510.28 L313.4 507.36 L315.6 507.96 L317.8 507.26 L320 509.15 L322.2 510.35 L324.4 516.21 L326.6 520.8 L328.8 522.95 L331 521.95 L333.2 520.99 L335.4 520.63 L337.6 521.65 L339.8 524.04 L342 526.28 L344.2 528.73 L346.4 530.5 L348.6 530.05 L350.8 529.69 L353 531.52 L355.2 532.77 L357.4 532.51 L359.6 532.13 L361.8 528.88 L364 531.21 L366.2 530.16 L368.4 529.85 L370.6 528.61 L372.8 530.03 L375 529.73 L377.2 532.45 L379.4 530 L381.6 522.76 L383.8 520.98 L386 519.07 L388.2 518.33 L390.4 518.11 L392.6 517.25 L394.8 519.2 L397 519.58 L399.2 519.62 L401.4 521.81 L403.6 522.84 L405.8 522.98 L408 524.5 L410.2 525.19 L412.4 525.45 L414.6 526.68 L416.8 525.88 L419 528.11 L419.7 529.65 L419.7 590.19 L419 589 L416.8 585.95 L414.6 583.64 L412.4 583.33 L410.2 579.5 L408 578.38 L405.8 577.08 L403.6 575.6 L401.4 573.16 L399.2 572.56 L397 570.74 L394.8 567.92 L392.6 568.93 L390.4 566.16 L388.2 566.62 L386 566.39 L383.8 567.76 L381.6 571.84 L379.4 575.14 L377.2 576.18 L375 572.68 L372.8 571.08 L370.6 571.32 L368.4 570.97 L366.2 570.44 L364 568.82 L361.8 569.92 L359.6 569.41 L357.4 569.55 L355.2 568.97 L353 569.88 L350.8 570.31 L348.6 569.84 L346.4 567.91 L344.2 566.35 L342 564.42 L339.8 564.8 L337.6 560.97 L335.4 559.55 L333.2 560.69 L331 566.36 L328.8 567.38 L326.6 567.29 L324.4 564.13 L322.2 563.69 L320 562.46 L317.8 559.12 L315.6 557.42 L313.4 559.65 L311.2 558.98 L309 558.49 L306.8 559.04 L304.6 557.06 L302.4 553.41 L300.2 551.79 L298 551.7 L295.8 550.11 L293.6 551.43 L291.4 553.43 L289.2 558.6 L287 561.34 L284.8 567.02 L282.6 572.14 L280.4 581.73 L278.2 588.48 L276 597.41 L273.8 604.72 L271.6 608.75 L269.4 612.7 L267.2 614.48 L265 615.68 L262.8 617.25 L260.6 617.58 L258.4 620.17 L256.2 619.37 L254 617.48 L251.8 617.23 L249.6 612.51 L247.4 606.24 L245.2 598.41 L243 589.81 L240.8 587.04 L238.6 592.16 L236.4 610.1 L234.2 632.58 L232 641.7 L229.8 639.41 L227.6 632.44 L225.4 624.6 L223.2 621.57 L221 620.41 L218.8 619.63 L216.6 618.68 L214.4 620.37 L212.2 621.53 L210 621.86 L207.8 622.35 L205.6 623.81 L203.4 626.06 L201.2 624.53 L199 626.35 L196.8 624.7 L194.6 623.98 L192.4 622.57 L190.2 625.91 L188 624.07 L185.8 623.96 L183.6 620.86 L181.4 617.68 L179.2 614.68 L177 615.97 L174.8 615.2 L172.6 617.45 L170.4 617.95 L168.2 619.18 L166 621.67 L163.8 624.67 L161.6 625 L159.4 626.02 L157.2 626.81 L155 627.6 L152.8 622.85 L150.6 620.48 L148.4 613.96 L146.2 616.31 L144 616.14 L141.8 618.35 L139.6 619.12 L137.4 621.28 L135.2 624.77 L133 625.91 L130.8 626.31 L128.6 624.07 L126.4 620.42 L124.2 622.4 L122 624.24 L119.8 626.2 L117.6 629.22 L115.4 628.23 L113.2 629.3 L111 628.92 L108.8 629.16 L106.6 628.28 L104.4 626.37 L102.2 624.36 L100 623.2 L97.8 622.52 L95.6 620.75 L93.4 622.78 L91.2 623.75 L89 622.5 L86.8 617.92 L84.6 615.09 L82.4 613.84 L80.2 617.28 L78 618.99Z" fill="#8e6cc0" fill-opacity="0.24" stroke="none"/>
<path d="M78 598.09 L80.2 597.82 L82.4 599.09 L84.6 599.21 L86.8 599.6 L89 598.07 L91.2 600.02 L93.4 599.06 L95.6 601.44 L97.8 601.69 L100 602.48 L102.2 600.54 L104.4 601.38 L106.6 602.1 L108.8 602.37 L111 602.89 L113.2 604.08 L115.4 603.3 L117.6 600.81 L119.8 597.36 L122 593.98 L124.2 588.9 L126.4 588.05 L128.6 585.82 L130.8 591.47 L133 598.31 L135.2 602.65 L137.4 606.36 L139.6 604.12 L141.8 603.76 L144 600.3 L146.2 593.62 L148.4 593.6 L150.6 594.9 L152.8 597.93 L155 602.22 L157.2 604.33 L159.4 602.66 L161.6 604.75 L163.8 602.21 L166 602.6 L168.2 598.24 L170.4 597.64 L172.6 594.77 L174.8 590.69 L177 586.82 L179.2 588.77 L181.4 591.88 L183.6 596.31 L185.8 601 L188 604.85 L190.2 604.58 L192.4 598.97 L194.6 597.75 L196.8 598.28 L199 599.59 L201.2 602.71 L203.4 605.57 L205.6 604.34 L207.8 604.58 L210 601.67 L212.2 603.4 L214.4 600.05 L216.6 600.44 L218.8 600.06 L221 596.05 L223.2 597.04 L225.4 596.32 L227.6 601.01 L229.8 610.37 L232 615.34 L234.2 610.87 L236.4 595 L238.6 581.81 L240.8 574.12 L243 576.47 L245.2 579.38 L247.4 582.17 L249.6 586.71 L251.8 588.48 L254 588.79 L256.2 588.11 L258.4 588.8 L260.6 589.45 L262.8 593.21 L265 593.41 L267.2 594.76 L269.4 596.57 L271.6 594.5 L273.8 591.54 L276 590.78 L278.2 585.6 L280.4 582.72 L282.6 576.36 L284.8 571.01 L287 567.5 L289.2 566.52 L291.4 569.45 L293.6 567.66 L295.8 564.42 L298 564.24 L300.2 560.98 L302.4 558.56 L304.6 555.09 L306.8 555.53 L309 554.56 L311.2 553.93 L313.4 554.47 L315.6 554.21 L317.8 551.27 L320 550.33 L322.2 549.6 L324.4 553.65 L326.6 553.18 L328.8 551.06 L331 548.69 L333.2 543.37 L335.4 545.19 L337.6 546.3 L339.8 547.78 L342 552.59 L344.2 553.88 L346.4 553.43 L348.6 557.47 L350.8 559.31 L353 561.05 L355.2 564.26 L357.4 562.73 L359.6 560.64 L361.8 560.76 L364 558.86 L366.2 561.36 L368.4 561.11 L370.6 560.29 L372.8 563.03 L375 562.71 L377.2 560.59 L379.4 557.03 L381.6 555.8 L383.8 558.41 L386 565.19 L388.2 565.85 L390.4 568.7 L392.6 566.83 L394.8 565.76 L397 566.46 L399.2 568.44 L401.4 569.61 L403.6 569.35 L405.8 570.74 L408 571.57 L410.2 571.53 L412.4 574.61 L414.6 573.36 L416.8 577.07 L419 576.62 L419.7 574.89 L419.7 627.63 L419 625.92 L416.8 626.92 L414.6 626.07 L412.4 622.85 L410.2 622.48 L408 620.71 L405.8 620.97 L403.6 619.48 L401.4 617.86 L399.2 615.98 L397 616.17 L394.8 615.82 L392.6 616.74 L390.4 619.63 L388.2 616.99 L386 615.62 L383.8 608.56 L381.6 606.58 L379.4 606.95 L377.2 610.51 L375 610.64 L372.8 611.32 L370.6 610.22 L368.4 608.83 L366.2 608.88 L364 608.41 L361.8 609.73 L359.6 611.12 L357.4 612.33 L355.2 612.91 L353 610.57 L350.8 606.87 L348.6 605.12 L346.4 604.65 L344.2 601.1 L342 598.6 L339.8 597.15 L337.6 593.97 L335.4 590.91 L333.2 593.71 L331 595.4 L328.8 597.85 L326.6 601.12 L324.4 600.56 L322.2 597.23 L320 597.66 L317.8 600.24 L315.6 599.88 L313.4 599.74 L311.2 601.73 L309 602.84 L306.8 603.41 L304.6 603.16 L302.4 604.69 L300.2 608.53 L298 608.3 L295.8 611.7 L293.6 616.08 L291.4 615.69 L289.2 612.09 L287 612.41 L284.8 614.39 L282.6 618.44 L280.4 622.3 L278.2 625.71 L276 627.19 L273.8 629.21 L271.6 632.42 L269.4 632.32 L267.2 632.18 L265 631 L262.8 629.24 L260.6 627.88 L258.4 626.74 L256.2 623.19 L254 623.44 L251.8 624.26 L249.6 620.42 L247.4 617.88 L245.2 611.95 L243 606.77 L240.8 605.59 L238.6 609.74 L236.4 622.75 L234.2 636.8 L232 642.14 L229.8 636.86 L227.6 626.27 L225.4 621.67 L223.2 620.43 L221 620.83 L218.8 621.61 L216.6 623.67 L214.4 626.38 L212.2 626.97 L210 626.03 L207.8 627.43 L205.6 629.26 L203.4 628.39 L201.2 628.58 L199 625.95 L196.8 621.08 L194.6 621.88 L192.4 625.07 L190.2 628.58 L188 628.78 L185.8 624.09 L183.6 620.59 L181.4 615.78 L179.2 613.78 L177 610.58 L174.8 613.3 L172.6 618.18 L170.4 621.3 L168.2 624.74 L166 623.62 L163.8 626.15 L161.6 626.23 L159.4 629.39 L157.2 626.88 L155 626.51 L152.8 621.56 L150.6 617.75 L148.4 617.25 L146.2 616.44 L144 622.48 L141.8 626.14 L139.6 628.36 L137.4 628.46 L135.2 625.62 L133 621.81 L130.8 616.66 L128.6 609.6 L126.4 609.53 L124.2 613.57 L122 618.07 L119.8 623.81 L117.6 625.2 L115.4 628.75 L113.2 628.5 L111 626.12 L108.8 627.53 L106.6 625.44 L104.4 624.29 L102.2 625.26 L100 625.16 L97.8 623.86 L95.6 625.49 L93.4 622.95 L91.2 622.65 L89 622.39 L86.8 624.05 L84.6 622.58 L82.4 619.99 L80.2 619.97 L78 619.04Z" fill="#d884f5" fill-opacity="0.18" stroke="none"/>
<path d="M78 595.07 L80.2 598.95 L82.4 601.77 L84.6 606.62 L86.8 608.53 L89 610.72 L91.2 604.43 L93.4 598.55 L95.6 590.18 L97.8 586.04 L100 591.33 L102.2 596.3 L104.4 602.2 L106.6 602.67 L108.8 602.05 L111 597.86 L113.2 596.39 L115.4 593.21 L117.6 594.84 L119.8 594.73 L122 597.78 L124.2 601.16 L126.4 597.95 L128.6 595.65 L130.8 597.19 L133 602.24 L135.2 608.04 L137.4 610.85 L139.6 609.44 L141.8 602.74 L144 599.22 L146.2 592.18 L148.4 592.38 L150.6 593.69 L152.8 597.33 L155 598.88 L157.2 600.61 L159.4 599.79 L161.6 604.75 L163.8 603.72 L166 601.14 L168.2 600.23 L170.4 595.09 L172.6 591.61 L174.8 589.14 L177 590.51 L179.2 589.13 L181.4 588.24 L183.6 593.88 L185.8 600.09 L188 604.3 L190.2 600.36 L192.4 597.35 L194.6 593.47 L196.8 591.68 L199 596.37 L201.2 601.5 L203.4 608.13 L205.6 609.24 L207.8 608.93 L210 605.44 L212.2 602.84 L214.4 601.2 L216.6 597.13 L218.8 594.54 L221 596.43 L223.2 598.98 L225.4 608.43 L227.6 616.78 L229.8 624.42 L232 614.01 L234.2 596.45 L236.4 574.71 L238.6 564.95 L240.8 567.92 L243 570.75 L245.2 578.84 L247.4 582.73 L249.6 586.48 L251.8 589.53 L254 589.31 L256.2 594.25 L258.4 595.65 L260.6 594.37 L262.8 590.12 L265 591.2 L267.2 589.73 L269.4 589.9 L271.6 587.99 L273.8 590.01 L276 590.1 L278.2 585.1 L280.4 577.34 L282.6 563.07 L284.8 558.41 L287 562.94 L289.2 568.41 L291.4 572.4 L293.6 572.38 L295.8 569.71 L298 565.24 L300.2 564.45 L302.4 561.52 L304.6 560.47 L306.8 560.62 L309 558.36 L311.2 559.9 L313.4 560.99 L315.6 560.96 L317.8 562.16 L320 563.2 L322.2 564.85 L324.4 562.09 L326.6 557.09 L328.8 555.18 L331 552.67 L333.2 555.34 L335.4 559.79 L337.6 571.07 L339.8 575.17 L342 577.9 L344.2 577.78 L346.4 572.96 L348.6 569.2 L350.8 571.29 L353 574.91 L355.2 576.12 L357.4 581.67 L359.6 581.22 L361.8 584.2 L364 583.25 L366.2 583.26 L368.4 583.28 L370.6 585.42 L372.8 580.16 L375 572.93 L377.2 563.96 L379.4 561.38 L381.6 562.68 L383.8 569.93 L386 575.38 L388.2 580.63 L390.4 581.74 L392.6 579.68 L394.8 582.19 L397 582.23 L399.2 586.79 L401.4 591.96 L403.6 598.94 L405.8 599.73 L408 600.67 L410.2 600.33 L412.4 596.29 L414.6 594.94 L416.8 592.94 L419 589.79 L419.7 588.07 L419.7 620.89 L419 623.68 L416.8 625.33 L414.6 629.84 L412.4 630.47 L410.2 633.49 L408 632.42 L405.8 632.88 L403.6 632.63 L401.4 626.7 L399.2 619.91 L397 616.07 L394.8 614.62 L392.6 612.07 L390.4 611.58 L388.2 612.01 L386 606.42 L383.8 600.28 L381.6 594.88 L379.4 593.32 L377.2 595.39 L375 606.45 L372.8 612.28 L370.6 617.7 L368.4 619.78 L366.2 616.72 L364 619.71 L361.8 621.34 L359.6 618.79 L357.4 618.6 L355.2 616.68 L353 613.53 L350.8 609.74 L348.6 610.46 L346.4 616.35 L344.2 617.65 L342 619.75 L339.8 618.12 L337.6 614.01 L335.4 603.31 L333.2 599.71 L331 598.82 L328.8 599.03 L326.6 603.74 L324.4 607.62 L322.2 609.9 L320 609.5 L317.8 608.04 L315.6 606.9 L313.4 606.33 L311.2 603.98 L309 603.29 L306.8 603 L304.6 607.3 L302.4 606.36 L300.2 607.52 L298 609.85 L295.8 613.18 L293.6 615.53 L291.4 616.48 L289.2 610.02 L287 600.79 L284.8 597.51 L282.6 600.57 L280.4 608 L278.2 615.83 L276 617.55 L273.8 615.69 L271.6 611.45 L269.4 608.89 L267.2 611.12 L265 610.82 L262.8 613.67 L260.6 616.65 L258.4 615.88 L256.2 616.99 L254 615 L251.8 614.97 L249.6 612.1 L247.4 609.67 L245.2 604.94 L243 598.75 L240.8 595.51 L238.6 592.58 L236.4 600.26 L234.2 622.54 L232 637.75 L229.8 648.18 L227.6 640.95 L225.4 631.65 L223.2 622.19 L221 619.23 L218.8 619.34 L216.6 622.63 L214.4 624.64 L212.2 625.77 L210 629.03 L207.8 631.25 L205.6 634.91 L203.4 632.01 L201.2 625.8 L199 619.61 L196.8 616.11 L194.6 616.62 L192.4 620.08 L190.2 624.39 L188 627.48 L185.8 624.31 L183.6 615.21 L181.4 609.8 L179.2 613.5 L177 613.53 L174.8 613.47 L172.6 615.29 L170.4 618.46 L168.2 623.05 L166 626.19 L163.8 628.11 L161.6 625.9 L159.4 626.71 L157.2 623.27 L155 624.03 L152.8 621.71 L150.6 620.07 L148.4 615.4 L146.2 618.03 L144 621.31 L141.8 628.44 L139.6 633.44 L137.4 636.17 L135.2 633.7 L133 625.7 L130.8 622.48 L128.6 617.63 L126.4 623.23 L124.2 627.09 L122 624.03 L119.8 619.87 L117.6 619.18 L115.4 619.35 L113.2 622.06 L111 624.61 L108.8 624.99 L106.6 627.76 L104.4 623.81 L102.2 619.83 L100 613.02 L97.8 612.44 L95.6 616.09 L93.4 622.87 L91.2 627.84 L89 633.14 L86.8 633.67 L84.6 628.85 L82.4 625.57 L80.2 620.8 L78 619.98Z" fill="#6aa6d4" fill-opacity="0.22" stroke="none"/>
<line x1="70.5" y1="611.3" x2="426.3" y2="611.3" stroke="#1e1e1e" stroke-width="1.7" stroke-dasharray="7.5 7.6" stroke-dashoffset="-0.5"/>
<path d="M78 606.4 L78.81 605.58 L79.97 604.36 L81.25 603.24 L82.4 602.7 L83.35 602.9 L84.24 603.56 L85.11 604.55 L86 605.7 L86.9 607.28 L87.8 609.28 L88.72 611.1 L89.7 612.2 L90.77 612.23 L91.91 611.55 L93.04 610.65 L94.1 610 L95.04 609.65 L95.9 609.37 L96.76 609.24 L97.7 609.3 L98.74 609.61 L99.85 610.13 L100.98 610.78 L102.1 611.5 L103.18 612.33 L104.26 613.3 L105.35 614.27 L106.5 615.1 L107.73 615.81 L109.01 616.44 L110.31 616.96 L111.6 617.3 L112.89 617.51 L114.19 617.59 L115.47 617.45 L116.7 617 L117.83 616.07 L118.9 614.76 L119.97 613.37 L121.1 612.2 L122.34 611.15 L123.65 610.13 L124.96 609.42 L126.2 609.3 L127.35 610.16 L128.44 611.76 L129.52 613.39 L130.6 614.4 L131.7 614.6 L132.81 614.34 L133.91 613.77 L135 613 L136.06 611.93 L137.1 610.54 L138.16 609.08 L139.3 607.8 L140.57 606.74 L141.94 605.77 L143.29 604.91 L144.5 604.2 L145.51 603.47 L146.39 602.77 L147.23 602.41 L148.1 602.7 L149.04 603.97 L149.99 605.98 L150.93 608.17 L151.8 610 L152.55 611.44 L153.21 612.74 L153.9 613.78 L154.7 614.4 L155.67 614.46 L156.76 614.07 L157.89 613.49 L159 613 L160.09 612.7 L161.19 612.44 L162.3 612.08 L163.4 611.5 L164.53 610.54 L165.69 609.31 L166.8 608.07 L167.8 607.1 L168.58 606.51 L169.21 606.16 L169.88 605.87 L170.8 605.5 L172.11 604.93 L173.66 604.26 L175.26 603.69 L176.7 603.4 L177.87 603.34 L178.91 603.44 L179.94 603.87 L181.1 604.8 L182.45 606.68 L183.91 609.27 L185.42 611.76 L186.9 613.3 L188.35 613.4 L189.79 612.59 L191.24 611.59 L192.7 611.1 L194.14 611.43 L195.56 612.16 L197.02 612.91 L198.6 613.3 L200.36 613.22 L202.26 612.86 L204.15 612.35 L205.9 611.8 L207.49 611.16 L208.98 610.41 L210.38 609.65 L211.7 609 L212.9 608.44 L213.99 607.93 L215.03 607.55 L216.1 607.4 L217.2 607.52 L218.3 607.87 L219.4 608.35 L220.5 608.9 L221.62 609.34 L222.75 609.76 L223.86 610.47 L224.9 611.8 L225.89 614.03 L226.84 616.94 L227.72 620.02 L228.5 622.8 L229.13 625.51 L229.64 628.29 L230.13 630.5 L230.7 631.5 L231.38 631.28 L232.11 630.13 L232.86 627.83 L233.6 624.2 L234.34 618.47 L235.09 610.99 L235.82 603.19 L236.5 596.5 L237.1 591.11 L237.64 586.31 L238.17 582.24 L238.7 579 L239.23 576.7 L239.76 575.26 L240.3 574.51 L240.9 574.3 L241.57 574.62 L242.3 575.54 L243.05 577.01 L243.8 579 L244.52 581.78 L245.23 585.27 L245.98 588.9 L246.8 592.1 L247.69 594.79 L248.62 597.24 L249.64 599.43 L250.8 601.3 L252.14 602.84 L253.64 604.07 L255.19 605.02 L256.7 605.7 L258.15 606.11 L259.6 606.25 L261.05 606.11 L262.5 605.7 L263.99 605.06 L265.49 604.18 L266.98 602.96 L268.4 601.3 L269.77 599.1 L271.09 596.44 L272.35 593.49 L273.5 590.4 L274.5 587.15 L275.39 583.68 L276.23 580.09 L277.1 576.5 L278.02 572.86 L278.95 569.15 L279.88 565.46 L280.8 561.9 L281.69 558.51 L282.56 555.22 L283.45 552 L284.4 548.8 L285.44 545.44 L286.55 542 L287.68 538.81 L288.8 536.2 L289.9 534.35 L291 533.04 L292.1 532.04 L293.2 531.1 L294.32 530.14 L295.45 529.29 L296.56 528.62 L297.6 528.2 L298.55 528.02 L299.44 528.05 L300.31 528.33 L301.2 528.9 L302.1 529.93 L303.01 531.36 L303.93 532.83 L304.9 534 L305.91 534.82 L306.96 535.46 L308.05 535.92 L309.2 536.2 L310.44 536.18 L311.74 535.9 L313.06 535.6 L314.3 535.5 L315.47 535.68 L316.59 536.02 L317.67 536.44 L318.7 536.9 L319.68 537.38 L320.6 537.91 L321.5 538.48 L322.4 539.1 L323.32 539.79 L324.25 540.55 L325.15 541.31 L326 542 L326.76 542.79 L327.44 543.64 L328.14 544.23 L328.9 544.2 L329.77 543.24 L330.71 541.62 L331.66 539.83 L332.6 538.4 L333.5 537.3 L334.4 536.31 L335.3 535.64 L336.2 535.5 L337.14 536.14 L338.09 537.38 L339.03 538.78 L339.9 539.9 L340.66 540.63 L341.34 541.21 L342.03 541.71 L342.8 542.2 L343.64 542.68 L344.51 543.12 L345.48 543.55 L346.6 544 L347.93 544.52 L349.42 545.07 L350.98 545.59 L352.5 546 L353.98 546.31 L355.47 546.54 L356.95 546.68 L358.4 546.7 L359.81 546.48 L361.19 546.08 L362.58 545.71 L364 545.6 L365.53 545.87 L367.12 546.39 L368.65 546.97 L370 547.4 L371.11 547.54 L372.04 547.53 L372.89 547.6 L373.7 548 L374.47 549.02 L375.17 550.47 L375.86 551.8 L376.6 552.5 L377.4 552.38 L378.24 551.74 L379.1 550.76 L380 549.6 L380.92 548.06 L381.87 546.12 L382.86 544.27 L383.9 543 L384.99 542.47 L386.14 542.4 L387.31 542.63 L388.5 543 L389.68 543.53 L390.88 544.27 L392.1 545.14 L393.4 546 L394.78 546.81 L396.24 547.62 L397.72 548.53 L399.2 549.6 L400.7 550.96 L402.24 552.54 L403.73 554.1 L405.1 555.4 L406.31 556.32 L407.4 556.99 L408.44 557.62 L409.5 558.4 L410.61 559.41 L411.74 560.55 L412.82 561.69 L413.8 562.7 L414.64 563.54 L415.39 564.29 L416.09 564.99 L416.8 565.7 L417.6 566.5 L418.44 567.34 L419.18 568.08 L419.7 568.6" fill="none" stroke="#6a3d9a" stroke-width="1.3" stroke-linejoin="round" stroke-linecap="round"/>
<path d="M78 608.6 L79.17 608.85 L80.84 609.21 L82.75 609.61 L84.6 610 L86.38 610.37 L88.21 610.74 L90.06 611.12 L91.9 611.5 L93.76 611.89 L95.64 612.3 L97.48 612.68 L99.2 613 L100.75 613.23 L102.19 613.4 L103.58 613.54 L105 613.7 L106.47 613.88 L107.95 614.05 L109.43 614.23 L110.9 614.4 L112.42 614.71 L113.96 615.11 L115.43 615.33 L116.7 615.1 L117.72 614.25 L118.55 612.96 L119.28 611.46 L120 610 L120.66 608.6 L121.24 607.14 L121.85 605.67 L122.6 604.2 L123.59 602.55 L124.72 600.76 L125.88 599.24 L126.9 598.4 L127.71 598.31 L128.4 598.76 L129.09 599.75 L129.9 601.3 L130.88 603.78 L131.96 607.06 L133.09 610.39 L134.2 613 L135.29 614.8 L136.39 616.15 L137.5 617 L138.6 617.3 L139.7 616.94 L140.8 615.97 L141.9 614.59 L143 613 L144.1 610.81 L145.2 608.06 L146.3 605.58 L147.4 604.2 L148.47 604.3 L149.51 605.39 L150.6 606.99 L151.8 608.6 L153.15 610.43 L154.61 612.62 L156.12 614.63 L157.6 615.9 L159.03 616.21 L160.45 615.88 L161.89 615.19 L163.4 614.4 L164.99 613.63 L166.64 612.72 L168.32 611.55 L170 610 L171.69 607.54 L173.4 604.41 L175.09 601.6 L176.7 600.1 L178.21 600.34 L179.65 601.74 L181.06 603.77 L182.5 605.9 L183.94 608.55 L185.36 611.83 L186.82 614.71 L188.4 616.2 L190.13 615.41 L191.96 613.09 L193.84 610.67 L195.7 609.6 L197.56 610.65 L199.44 612.92 L201.28 615.36 L203 616.9 L204.52 617.2 L205.9 616.84 L207.28 616.17 L208.8 615.5 L210.52 614.89 L212.36 614.18 L214.24 613.38 L216.1 612.5 L218.01 611.35 L219.98 609.98 L221.84 608.8 L223.4 608.2 L224.56 608.11 L225.43 608.38 L226.18 609.28 L227 611.1 L227.94 614.61 L228.89 619.43 L229.83 624.1 L230.7 627.2 L231.46 628.58 L232.15 628.92 L232.84 628.03 L233.6 625.7 L234.49 621.15 L235.45 614.73 L236.41 607.94 L237.3 602.3 L238.05 597.93 L238.71 594.11 L239.39 591.11 L240.2 589.2 L241.21 588.73 L242.36 589.47 L243.52 590.8 L244.6 592.1 L245.54 593.41 L246.4 594.99 L247.26 596.58 L248.2 597.9 L249.21 598.88 L250.26 599.67 L251.38 600.33 L252.6 600.9 L253.99 601.34 L255.52 601.63 L257.04 601.91 L258.4 602.3 L259.54 602.83 L260.54 603.44 L261.49 604.11 L262.5 604.8 L263.51 605.66 L264.5 606.64 L265.59 607.48 L266.9 607.9 L268.56 607.84 L270.46 607.45 L272.41 606.73 L274.2 605.7 L275.79 604.27 L277.28 602.46 L278.68 600.45 L280 598.4 L281.21 596.18 L282.33 593.77 L283.38 591.47 L284.4 589.6 L285.34 588.18 L286.21 587.07 L287.09 586.32 L288.1 586 L289.29 586.46 L290.61 587.54 L291.94 588.59 L293.2 588.9 L294.32 588.2 L295.36 586.89 L296.42 585.31 L297.6 583.8 L298.95 582.31 L300.41 580.72 L301.92 579.21 L303.4 578 L304.85 577.18 L306.29 576.63 L307.74 576.22 L309.2 575.8 L310.67 575.41 L312.15 575.09 L313.63 574.76 L315.1 574.3 L316.59 573.52 L318.09 572.53 L319.55 571.7 L320.9 571.4 L322.1 572.01 L323.19 573.24 L324.23 574.45 L325.3 575 L326.42 574.64 L327.55 573.74 L328.66 572.57 L329.7 571.4 L330.65 570.11 L331.54 568.61 L332.41 567.24 L333.3 566.3 L334.25 565.9 L335.23 565.86 L336.16 566.09 L337 566.5 L337.64 567.11 L338.16 567.94 L338.69 568.94 L339.4 570 L340.34 571.21 L341.43 572.58 L342.6 573.94 L343.8 575.1 L344.99 575.9 L346.22 576.46 L347.51 577.1 L348.9 578.1 L350.44 579.88 L352.1 582.17 L353.78 584.25 L355.4 585.4 L356.95 585.16 L358.48 584.01 L359.94 582.62 L361.3 581.7 L362.51 581.4 L363.6 581.38 L364.64 581.51 L365.7 581.7 L366.78 581.97 L367.85 582.36 L368.92 582.8 L370 583.2 L371.09 583.69 L372.19 584.26 L373.3 584.65 L374.4 584.6 L375.52 583.86 L376.65 582.63 L377.76 581.31 L378.8 580.3 L379.75 579.52 L380.64 578.82 L381.51 578.49 L382.4 578.8 L383.3 580.09 L384.2 582.13 L385.12 584.33 L386.1 586.1 L387.15 587.43 L388.26 588.58 L389.38 589.39 L390.5 589.7 L391.58 589.15 L392.66 587.94 L393.75 586.71 L394.9 586.1 L396.13 586.38 L397.41 587.19 L398.71 588.17 L400 589 L401.26 589.62 L402.51 590.19 L403.78 590.72 L405.1 591.2 L406.53 591.59 L408.04 591.91 L409.53 592.24 L410.9 592.7 L412.1 593.38 L413.19 594.2 L414.23 595 L415.3 595.6 L416.5 595.95 L417.78 596.13 L418.91 596.23 L419.7 596.3" fill="none" stroke="#d47ef6" stroke-width="1.3" stroke-linejoin="round" stroke-linecap="round"/>
<path d="M78 607 L78.68 607.76 L79.67 608.84 L80.74 610.12 L81.7 611.5 L82.46 613.04 L83.16 614.78 L83.84 616.53 L84.6 618.1 L85.45 619.74 L86.35 621.44 L87.28 622.68 L88.2 622.9 L89.12 621.79 L90.05 619.68 L90.98 617.06 L91.9 614.4 L92.82 611.5 L93.74 608.22 L94.64 605.1 L95.5 602.7 L96.29 601.08 L97.04 599.98 L97.77 599.44 L98.5 599.5 L99.22 600.35 L99.91 601.9 L100.63 603.8 L101.4 605.7 L102.25 607.76 L103.15 610.09 L104.08 612.22 L105 613.7 L105.89 614.4 L106.76 614.57 L107.67 614.3 L108.7 613.7 L109.91 612.55 L111.26 610.88 L112.6 609.15 L113.8 607.8 L114.8 606.86 L115.69 606.11 L116.53 605.69 L117.4 605.7 L118.32 606.34 L119.25 607.49 L120.18 608.82 L121.1 610 L122 611.23 L122.9 612.58 L123.8 613.56 L124.7 613.7 L125.62 612.36 L126.55 609.96 L127.48 607.61 L128.4 606.4 L129.32 606.72 L130.24 607.94 L131.14 609.67 L132 611.5 L132.81 613.56 L133.59 615.99 L134.32 618.38 L135 620.3 L135.59 621.73 L136.11 622.88 L136.62 623.63 L137.2 623.9 L137.84 623.7 L138.51 623.06 L139.25 621.94 L140.1 620.3 L141.13 617.79 L142.3 614.54 L143.47 611.25 L144.5 608.6 L145.31 606.64 L146 605.05 L146.66 603.96 L147.4 603.5 L148.25 603.93 L149.15 605.1 L150.08 606.55 L151 607.8 L151.92 608.84 L152.85 609.88 L153.78 610.8 L154.7 611.5 L155.59 611.82 L156.46 611.85 L157.35 611.88 L158.3 612.2 L159.34 613.09 L160.45 614.33 L161.58 615.43 L162.7 615.9 L163.84 615.51 L164.99 614.54 L166.11 613.33 L167.1 612.2 L167.91 611.2 L168.59 610.18 L169.25 609.11 L170 608 L170.88 606.76 L171.82 605.42 L172.8 604.14 L173.8 603.1 L174.83 602.37 L175.9 601.84 L176.97 601.42 L178 601 L179 600.32 L179.98 599.52 L180.92 599.06 L181.8 599.4 L182.57 600.89 L183.26 603.2 L183.94 605.81 L184.7 608.2 L185.57 610.6 L186.51 613.16 L187.46 615.25 L188.4 616.2 L189.3 615.54 L190.2 613.72 L191.1 611.49 L192 609.6 L192.92 608.01 L193.85 606.41 L194.78 605.12 L195.7 604.5 L196.59 604.6 L197.46 605.26 L198.35 606.46 L199.3 608.2 L200.34 611 L201.45 614.68 L202.58 618.22 L203.7 620.6 L204.78 621.47 L205.86 621.39 L206.95 620.75 L208.1 619.9 L209.34 618.79 L210.65 617.27 L211.96 615.59 L213.2 614 L214.38 612.44 L215.54 610.83 L216.62 609.35 L217.6 608.2 L218.43 607.38 L219.14 606.81 L219.81 606.56 L220.5 606.7 L221.22 607.21 L221.95 608.08 L222.68 609.35 L223.4 611.1 L224.12 613.48 L224.85 616.41 L225.58 619.61 L226.3 622.8 L227.04 626.42 L227.79 630.44 L228.52 633.92 L229.2 635.9 L229.78 636.16 L230.3 635.19 L230.82 633.12 L231.4 630.1 L232.09 625.76 L232.85 620.16 L233.61 614.05 L234.3 608.2 L234.9 602.39 L235.44 596.36 L235.97 590.77 L236.5 586.3 L237.05 583.14 L237.6 580.93 L238.15 579.51 L238.7 578.7 L239.21 578.64 L239.71 579.37 L240.24 580.56 L240.9 581.9 L241.69 583.36 L242.59 585.08 L243.56 587.04 L244.6 589.2 L245.73 591.82 L246.96 594.83 L248.2 597.69 L249.4 599.9 L250.53 601.17 L251.63 601.84 L252.72 602.26 L253.8 602.8 L254.88 603.66 L255.95 604.61 L257.02 605.38 L258.1 605.7 L259.16 605.4 L260.2 604.66 L261.29 603.72 L262.5 602.8 L263.92 601.81 L265.5 600.68 L267.05 599.69 L268.4 599.1 L269.46 599.04 L270.34 599.34 L271.15 599.87 L272 600.5 L272.92 601.55 L273.85 602.98 L274.78 604.09 L275.7 604.2 L276.59 603.12 L277.46 601.23 L278.35 598.64 L279.3 595.5 L280.38 591.12 L281.54 585.67 L282.69 580.56 L283.7 577.2 L284.53 576.15 L285.24 576.61 L285.91 577.91 L286.6 579.4 L287.34 581.22 L288.09 583.62 L288.82 586.11 L289.5 588.2 L290.06 589.92 L290.55 591.48 L291.06 592.67 L291.7 593.3 L292.51 593.21 L293.42 592.54 L294.4 591.52 L295.4 590.4 L296.41 589.07 L297.46 587.45 L298.55 585.83 L299.7 584.5 L300.97 583.55 L302.34 582.82 L303.69 582.21 L304.9 581.6 L305.88 580.9 L306.71 580.18 L307.53 579.62 L308.5 579.4 L309.65 579.62 L310.91 580.18 L312.23 580.9 L313.6 581.6 L315.04 582.38 L316.55 583.27 L318.06 584.06 L319.5 584.5 L320.87 584.59 L322.19 584.44 L323.45 583.97 L324.6 583.1 L325.59 581.55 L326.44 579.46 L327.28 577.36 L328.2 575.8 L329.28 574.83 L330.44 574.18 L331.59 573.97 L332.6 574.3 L333.46 575.31 L334.22 576.91 L334.89 578.85 L335.5 580.9 L335.96 583.16 L336.31 585.71 L336.67 588.25 L337.2 590.5 L337.95 592.56 L338.83 594.53 L339.8 596.11 L340.8 597 L341.84 597.02 L342.95 596.36 L344.08 595.3 L345.2 594.1 L346.3 592.48 L347.4 590.4 L348.5 588.55 L349.6 587.6 L350.7 587.88 L351.8 588.98 L352.9 590.46 L354 591.9 L355.1 593.38 L356.21 595.07 L357.31 596.65 L358.4 597.8 L359.51 598.41 L360.64 598.66 L361.72 598.65 L362.7 598.5 L363.51 598.07 L364.2 597.35 L364.89 596.66 L365.7 596.3 L366.7 596.62 L367.81 597.37 L368.94 597.96 L370 597.8 L370.99 596.73 L371.94 595.07 L372.85 592.95 L373.7 590.5 L374.48 587.41 L375.2 583.71 L375.89 580.11 L376.6 577.3 L377.33 575.43 L378.05 574.14 L378.78 573.36 L379.5 573 L380.22 573.05 L380.94 573.54 L381.67 574.49 L382.4 575.9 L383.11 578.02 L383.81 580.77 L384.56 583.63 L385.4 586.1 L386.38 588.14 L387.46 589.99 L388.59 591.55 L389.7 592.7 L390.81 593.2 L391.94 593.19 L393.05 593.1 L394.1 593.4 L395.09 594.17 L396.04 595.19 L396.95 596.41 L397.8 597.8 L398.58 599.42 L399.3 601.27 L399.99 603.21 L400.7 605.1 L401.39 607.04 L402.06 609.04 L402.77 610.91 L403.6 612.4 L404.59 613.5 L405.71 614.32 L406.86 614.83 L408 615 L409.1 614.76 L410.2 614.14 L411.3 613.3 L412.4 612.4 L413.54 611.44 L414.69 610.36 L415.81 609.19 L416.8 608 L417.7 606.65 L418.53 605.17 L419.21 603.83 L419.7 602.9" fill="none" stroke="#2479b5" stroke-width="1.4" stroke-linejoin="round" stroke-linecap="round"/>
<path d="M78 610 L79.32 608.99 L81 607.8 L82.37 606.92 L83.9 606.4 L86.04 606.25 L88.2 607.1 L89.74 610.26 L91.2 613.7 L92.91 615.59 L94.8 616.6 L97 616.6 L99.2 616.2 L101.04 616.3 L102.8 615.9 L104.6 613.84 L106.5 611.5 L108.66 609.86 L110.9 608.9 L113.11 609.26 L115.3 610 L117.49 610.18 L119.6 610.5 L121.49 611.94 L123.3 612.7 L125.01 610.61 L126.9 607.8 L129.44 605.33 L132 604.2 L133.99 606.62 L135.7 610 L137.11 612.85 L138.6 614.1 L140.71 611.13 L143 607.1 L145.25 604.14 L147.4 602.7 L149.24 604.74 L151 607.8 L152.81 610.06 L154.7 611.5 L156.81 610.93 L159 610 L161.19 610.15 L163.4 610.8 L165.69 611.92 L167.9 613.3 L169.81 615.32 L171.6 616.2 L173.4 613.4 L175.2 609.6 L177.09 606.59 L178.9 604.5 L180.4 604.12 L181.8 605.3 L183.16 608.46 L184.7 612.6 L186.86 617.77 L189.1 621.3 L190.99 619.36 L192.7 615.5 L194.24 612.02 L195.7 608.9 L197.11 606.81 L198.6 606 L200.31 607.25 L202.2 609.6 L204.39 612.91 L206.6 615.5 L208.5 614.91 L210.3 613.3 L212.1 611.84 L213.9 611.1 L215.75 612.85 L217.6 614.7 L219.4 614.5 L221.2 613.3 L223.05 611.42 L224.9 608.9 L226.79 604.87 L228.5 602.3 L229.64 604.99 L230.7 609.6 L232.11 614.54 L233.6 618.4 L235.09 619.07 L236.5 617 L237.64 610.95 L238.7 603.8 L239.76 598.12 L240.9 593.6 L242.3 590.85 L243.8 589.6 L245.3 590.02 L246.8 591.4 L248.18 593.19 L249.7 595 L251.66 596.08 L253.8 596.9 L255.93 597.67 L258.1 598.4 L260.29 599.47 L262.5 599.9 L264.7 598.74 L266.9 596.2 L269.15 591.95 L271.3 586.7 L273.19 581.26 L274.9 575 L276.39 567.38 L277.8 559 L279.3 550.15 L280.8 541.3 L282.3 532.38 L283.7 525.3 L284.71 522.98 L285.9 522.3 L287.97 520.94 L290.3 519.4 L292.45 517.24 L294.6 515 L296.89 513 L299 511.4 L300.36 510.53 L301.9 510.2 L304.76 510.44 L307.8 510.9 L310.05 511.19 L312.2 511.4 L314.71 511.31 L317.3 511.4 L319.85 512.26 L322.4 513.3 L325.04 513.91 L327.5 514.7 L329.43 516.26 L331.1 518 L332.64 519.59 L334.1 520.9 L335.56 522.16 L337 522 L338.45 518.02 L339.9 513.6 L341.36 511.9 L342.8 511.2 L344.21 510.76 L345.5 510.8 L346.44 511.06 L347.4 512.2 L348.79 515.23 L350.3 518.8 L351.7 521.74 L353.2 524.6 L355.01 527.83 L356.9 530.5 L358.7 531.38 L360.5 531.9 L362.35 533.36 L364.2 534.9 L366.04 536.14 L367.8 537 L369.44 538.27 L370.8 537 L371.59 527.94 L372.2 518.8 L372.9 516.81 L373.7 518.1 L374.71 521.51 L375.9 526.1 L377.31 530.54 L378.8 534.9 L380.2 539.19 L381.7 542.2 L383.51 541.77 L385.4 540.7 L387.11 541.57 L389 542.9 L391.54 544.59 L394.1 545.1 L395.99 541.86 L397.8 537.8 L400.06 535.04 L402.2 533.4 L403.69 533.8 L405 535 L406.4 535.96 L408 537 L410.16 538.13 L412.4 539.2 L414.24 539.86 L416 540.7 L418.07 542.59 L419.7 544.3" fill="none" stroke="#000000" stroke-width="1.45" stroke-linejoin="round" stroke-linecap="round"/>
<text x="460.6" y="237.1" font-size="14" fill="#000" font-weight="bold" stroke="#000" stroke-width="0.35">d</text>
<rect x="522.5" y="303.5" width="19" height="99.5" fill="none" stroke="#5a5a5a" stroke-width="1"/>
<rect x="554.5" y="339.5" width="19" height="63.5" fill="none" stroke="#c4b3de" stroke-width="1"/>
<rect x="585.5" y="347.5" width="19" height="55.5" fill="none" stroke="#eab3fa" stroke-width="1"/>
<rect x="617.5" y="359.5" width="19" height="43.5" fill="none" stroke="#e31a1c" stroke-width="1"/>
<line x1="513.5" y1="241.3" x2="513.5" y2="404" stroke="#6e6e6e" stroke-width="1"/>
<line x1="513" y1="403.5" x2="645.6" y2="403.5" stroke="#6e6e6e" stroke-width="1"/>
<line x1="508.6" y1="403.5" x2="513.2" y2="403.5" stroke="#777777" stroke-width="1"/>
<text x="504.2" y="407.7" font-size="12.2" fill="#111111" text-anchor="end">0</text>
<line x1="508.6" y1="354" x2="513.2" y2="354" stroke="#777777" stroke-width="1"/>
<text x="504.2" y="358.2" font-size="12.2" fill="#111111" text-anchor="end">1</text>
<line x1="508.6" y1="304.5" x2="513.2" y2="304.5" stroke="#777777" stroke-width="1"/>
<text x="504.2" y="308.7" font-size="12.2" fill="#111111" text-anchor="end">2</text>
<line x1="508.6" y1="255" x2="513.2" y2="255" stroke="#777777" stroke-width="1"/>
<text x="504.2" y="259.2" font-size="12.2" fill="#111111" text-anchor="end">3</text>
<circle cx="530.3" cy="287.5" r="2.5" fill="#000000" stroke="#fff" stroke-width="0.5"/>
<circle cx="533.6" cy="287.5" r="2.5" fill="#000000" stroke="#fff" stroke-width="0.5"/>
<circle cx="532" cy="294.8" r="2.5" fill="#000000" stroke="#fff" stroke-width="0.5"/>
<circle cx="532" cy="302.6" r="2.5" fill="#000000" stroke="#fff" stroke-width="0.5"/>
<circle cx="532" cy="310.6" r="2.5" fill="#000000" stroke="#fff" stroke-width="0.5"/>
<circle cx="532" cy="339.1" r="2.5" fill="#000000" stroke="#fff" stroke-width="0.5"/>
<circle cx="563.4" cy="317.1" r="2.5" fill="#6a3d9a" stroke="#fff" stroke-width="0.5"/>
<circle cx="563.4" cy="323" r="2.5" fill="#6a3d9a" stroke="#fff" stroke-width="0.5"/>
<circle cx="563.4" cy="340.9" r="2.5" fill="#6a3d9a" stroke="#fff" stroke-width="0.5"/>
<circle cx="563.4" cy="348.2" r="2.5" fill="#6a3d9a" stroke="#fff" stroke-width="0.5"/>
<circle cx="561.6" cy="354.8" r="2.5" fill="#6a3d9a" stroke="#fff" stroke-width="0.5"/>
<circle cx="565.2" cy="354.8" r="2.5" fill="#6a3d9a" stroke="#fff" stroke-width="0.5"/>
<circle cx="593.4" cy="333.6" r="2.5" fill="#d47ef6" stroke="#fff" stroke-width="0.5"/>
<circle cx="597" cy="333.6" r="2.5" fill="#d47ef6" stroke="#fff" stroke-width="0.5"/>
<circle cx="595.2" cy="341.3" r="2.5" fill="#d47ef6" stroke="#fff" stroke-width="0.5"/>
<circle cx="595.2" cy="350.5" r="2.5" fill="#d47ef6" stroke="#fff" stroke-width="0.5"/>
<circle cx="593.4" cy="361" r="2.5" fill="#d47ef6" stroke="#fff" stroke-width="0.5"/>
<circle cx="597" cy="361" r="2.5" fill="#d47ef6" stroke="#fff" stroke-width="0.5"/>
<circle cx="626.8" cy="337" r="2.5" fill="#e31a1c" stroke="#fff" stroke-width="0.5"/>
<circle cx="626.8" cy="343.8" r="2.5" fill="#e31a1c" stroke="#fff" stroke-width="0.5"/>
<circle cx="623.7" cy="364.2" r="2.5" fill="#e31a1c" stroke="#fff" stroke-width="0.5"/>
<circle cx="626.8" cy="364.2" r="2.5" fill="#e31a1c" stroke="#fff" stroke-width="0.5"/>
<circle cx="629.8" cy="364.2" r="2.5" fill="#e31a1c" stroke="#fff" stroke-width="0.5"/>
<circle cx="626.8" cy="381.4" r="2.5" fill="#e31a1c" stroke="#fff" stroke-width="0.5"/>
<text x="470.9" y="322.2" font-size="12.2" fill="#111111" text-anchor="middle" transform="rotate(-90 470.9 322.2)" textLength="147" lengthAdjust="spacingAndGlyphs">Mean temperature change,</text>
<text x="485.4" y="322.3" font-size="12.2" fill="#111111" text-anchor="middle" transform="rotate(-90 485.4 322.3)" textLength="85" lengthAdjust="spacingAndGlyphs">1 to 4 d.p.i. (°C)</text>
<path d="M532.1 277.7 V273.3 H626.8 V329.6" fill="none" stroke="#6a6a6a" stroke-width="1"/>
<text x="579.1" y="269.5" font-size="12.2" fill="#111111" text-anchor="middle"><tspan font-style="italic">P</tspan> = 0.002</text>
<text x="460.6" y="470.6" font-size="14" fill="#000" font-weight="bold" stroke="#000" stroke-width="0.35">f</text>
<rect x="522.5" y="525.5" width="19" height="110.5" fill="none" stroke="#5a5a5a" stroke-width="1"/>
<rect x="554.5" y="551.5" width="19" height="84.5" fill="none" stroke="#c4b3de" stroke-width="1"/>
<rect x="585.5" y="600.5" width="19" height="35.5" fill="none" stroke="#eab3fa" stroke-width="1"/>
<rect x="617.5" y="611.5" width="19" height="24.5" fill="none" stroke="#5a9ad0" stroke-width="1"/>
<line x1="513.5" y1="474.8" x2="513.5" y2="637" stroke="#6e6e6e" stroke-width="1"/>
<line x1="513" y1="636.5" x2="645.6" y2="636.5" stroke="#6e6e6e" stroke-width="1"/>
<line x1="508.6" y1="637" x2="513.2" y2="637" stroke="#777777" stroke-width="1"/>
<text x="504.2" y="641.2" font-size="12.2" fill="#111111" text-anchor="end">0</text>
<line x1="508.6" y1="587.5" x2="513.2" y2="587.5" stroke="#777777" stroke-width="1"/>
<text x="504.2" y="591.7" font-size="12.2" fill="#111111" text-anchor="end">1</text>
<line x1="508.6" y1="538" x2="513.2" y2="538" stroke="#777777" stroke-width="1"/>
<text x="504.2" y="542.2" font-size="12.2" fill="#111111" text-anchor="end">2</text>
<line x1="508.6" y1="488.5" x2="513.2" y2="488.5" stroke="#777777" stroke-width="1"/>
<text x="504.2" y="492.7" font-size="12.2" fill="#111111" text-anchor="end">3</text>
<circle cx="532" cy="498.8" r="2.5" fill="#000000" stroke="#fff" stroke-width="0.5"/>
<circle cx="532" cy="516.6" r="2.5" fill="#000000" stroke="#fff" stroke-width="0.5"/>
<circle cx="532" cy="523.7" r="2.5" fill="#000000" stroke="#fff" stroke-width="0.5"/>
<circle cx="532" cy="541.5" r="2.5" fill="#000000" stroke="#fff" stroke-width="0.5"/>
<circle cx="532" cy="547.7" r="2.5" fill="#000000" stroke="#fff" stroke-width="0.5"/>
<circle cx="563.4" cy="540.8" r="2.5" fill="#6a3d9a" stroke="#fff" stroke-width="0.5"/>
<circle cx="560.2" cy="547.9" r="2.5" fill="#6a3d9a" stroke="#fff" stroke-width="0.5"/>
<circle cx="563.4" cy="547.9" r="2.5" fill="#6a3d9a" stroke="#fff" stroke-width="0.5"/>
<circle cx="566.6" cy="547.9" r="2.5" fill="#6a3d9a" stroke="#fff" stroke-width="0.5"/>
<circle cx="563.4" cy="556.8" r="2.5" fill="#6a3d9a" stroke="#fff" stroke-width="0.5"/>
<circle cx="563.4" cy="568.4" r="2.5" fill="#6a3d9a" stroke="#fff" stroke-width="0.5"/>
<circle cx="595.2" cy="574.3" r="2.5" fill="#d47ef6" stroke="#fff" stroke-width="0.5"/>
<circle cx="595.2" cy="588" r="2.5" fill="#d47ef6" stroke="#fff" stroke-width="0.5"/>
<circle cx="595.2" cy="599.5" r="2.5" fill="#d47ef6" stroke="#fff" stroke-width="0.5"/>
<circle cx="593.4" cy="604.3" r="2.5" fill="#d47ef6" stroke="#fff" stroke-width="0.5"/>
<circle cx="596.8" cy="604.3" r="2.5" fill="#d47ef6" stroke="#fff" stroke-width="0.5"/>
<circle cx="595.2" cy="630.6" r="2.5" fill="#d47ef6" stroke="#fff" stroke-width="0.5"/>
<circle cx="626.8" cy="567.9" r="2.5" fill="#2479b5" stroke="#fff" stroke-width="0.5"/>
<circle cx="626.8" cy="593.3" r="2.5" fill="#2479b5" stroke="#fff" stroke-width="0.5"/>
<circle cx="626.8" cy="613.7" r="2.5" fill="#2479b5" stroke="#fff" stroke-width="0.5"/>
<circle cx="626.8" cy="626.1" r="2.5" fill="#2479b5" stroke="#fff" stroke-width="0.5"/>
<circle cx="625" cy="633.6" r="2.5" fill="#2479b5" stroke="#fff" stroke-width="0.5"/>
<circle cx="628.4" cy="633.6" r="2.5" fill="#2479b5" stroke="#fff" stroke-width="0.5"/>
<text x="470.9" y="555.7" font-size="12.2" fill="#111111" text-anchor="middle" transform="rotate(-90 470.9 555.7)" textLength="147" lengthAdjust="spacingAndGlyphs">Mean temperature change,</text>
<text x="485.4" y="555.8" font-size="12.2" fill="#111111" text-anchor="middle" transform="rotate(-90 485.4 555.8)" textLength="85" lengthAdjust="spacingAndGlyphs">1 to 4 d.p.i. (°C)</text>
<path d="M532.1 479 V475.4 H626.8 V562" fill="none" stroke="#6a6a6a" stroke-width="1"/>
<path d="M532.1 493.2 V489.6 H595.7 V568.8" fill="none" stroke="#6a6a6a" stroke-width="1"/>
<text x="579.1" y="471.3" font-size="12.2" fill="#111111" text-anchor="middle"><tspan font-style="italic">P</tspan> = 0.002</text>
<text x="563.3" y="486.9" font-size="12.2" fill="#111111" text-anchor="middle"><tspan font-style="italic">P</tspan> = 0.01</text>
</svg>
</body></html>
